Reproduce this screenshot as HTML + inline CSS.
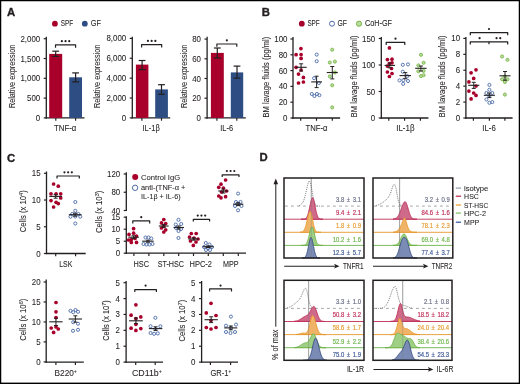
<!DOCTYPE html>
<html><head><meta charset="utf-8"><style>
html,body{margin:0;padding:0;background:#fff;}
body{width:520px;height:384px;overflow:hidden;position:relative;font-family:"Liberation Sans", sans-serif;}
text{font-family:"Liberation Sans", sans-serif;}
</style></head><body>
<svg width="520" height="384" viewBox="0 0 520 384" style="position:absolute;left:0;top:0;filter:blur(0.3px)" font-family='"Liberation Sans", sans-serif'>
<rect x="0" y="0" width="520" height="384" fill="#fff"/>
<text x="7" y="16.45" font-size="11.3" text-anchor="start" fill="#231f20" stroke="#231f20" stroke-width="0.07" font-weight="bold" style="stroke-width:0.35">A</text>
<text x="261.7" y="16.35" font-size="11.3" text-anchor="start" fill="#231f20" stroke="#231f20" stroke-width="0.07" font-weight="bold" style="stroke-width:0.35">B</text>
<text x="7" y="161.75" font-size="11.3" text-anchor="start" fill="#231f20" stroke="#231f20" stroke-width="0.07" font-weight="bold" style="stroke-width:0.35">C</text>
<text x="259.5" y="161.35" font-size="11.3" text-anchor="start" fill="#231f20" stroke="#231f20" stroke-width="0.07" font-weight="bold" style="stroke-width:0.35">D</text>
<circle cx="54.9" cy="23.7" r="2.9" fill="#a8002a"/>
<text x="60.8" y="26.4" font-size="8.4" text-anchor="start" fill="#231f20" stroke="#231f20" stroke-width="0.07" font-weight="normal" textLength="12.4" lengthAdjust="spacingAndGlyphs" >SPF</text>
<circle cx="84.8" cy="23.7" r="2.9" fill="#2e4d82"/>
<text x="90.7" y="26.4" font-size="8.4" text-anchor="start" fill="#231f20" stroke="#231f20" stroke-width="0.07" font-weight="normal" textLength="10.2" lengthAdjust="spacingAndGlyphs" >GF</text>
<line x1="46.3" y1="36.8" x2="46.3" y2="118.55" stroke="#231f20" stroke-width="1.3" />
<line x1="45.65" y1="117.9" x2="84.5" y2="117.9" stroke="#231f20" stroke-width="1.3" />
<line x1="43.7" y1="117.9" x2="46.3" y2="117.9" stroke="#231f20" stroke-width="1.1700000000000002" />
<text transform="translate(40.2,120.92) scale(0.93,1)" font-size="8.5" text-anchor="end" fill="#231f20" stroke="#231f20" stroke-width="0.07" font-weight="normal" >0</text>
<line x1="43.7" y1="98.1" x2="46.3" y2="98.1" stroke="#231f20" stroke-width="1.1700000000000002" />
<text transform="translate(40.2,101.12) scale(0.93,1)" font-size="8.5" text-anchor="end" fill="#231f20" stroke="#231f20" stroke-width="0.07" font-weight="normal" >500</text>
<line x1="43.7" y1="78.3" x2="46.3" y2="78.3" stroke="#231f20" stroke-width="1.1700000000000002" />
<text transform="translate(40.2,81.32) scale(0.93,1)" font-size="8.5" text-anchor="end" fill="#231f20" stroke="#231f20" stroke-width="0.07" font-weight="normal" >1,000</text>
<line x1="43.7" y1="58.5" x2="46.3" y2="58.5" stroke="#231f20" stroke-width="1.1700000000000002" />
<text transform="translate(40.2,61.52) scale(0.93,1)" font-size="8.5" text-anchor="end" fill="#231f20" stroke="#231f20" stroke-width="0.07" font-weight="normal" >1,500</text>
<line x1="43.7" y1="38.7" x2="46.3" y2="38.7" stroke="#231f20" stroke-width="1.1700000000000002" />
<text transform="translate(40.2,41.72) scale(0.93,1)" font-size="8.5" text-anchor="end" fill="#231f20" stroke="#231f20" stroke-width="0.07" font-weight="normal" >2,000</text>
<line x1="55.8" y1="117.9" x2="55.8" y2="120.7" stroke="#231f20" stroke-width="1.1700000000000002" />
<line x1="75.6" y1="117.9" x2="75.6" y2="120.7" stroke="#231f20" stroke-width="1.1700000000000002" />
<rect x="49.2" y="53.9" width="13" height="64" fill="#a8002a"/>
<rect x="69.2" y="77.3" width="12.8" height="40.6" fill="#2e4d82"/>
<line x1="55.7" y1="51.2" x2="55.7" y2="56.4" stroke="#231f20" stroke-width="1.2" />
<line x1="52.3" y1="51.2" x2="59.1" y2="51.2" stroke="#231f20" stroke-width="1.2" />
<line x1="52.3" y1="56.4" x2="59.1" y2="56.4" stroke="#231f20" stroke-width="1.2" />
<line x1="75.6" y1="72.9" x2="75.6" y2="81.9" stroke="#231f20" stroke-width="1.2" />
<line x1="72.2" y1="72.9" x2="79" y2="72.9" stroke="#231f20" stroke-width="1.2" />
<line x1="72.2" y1="81.9" x2="79" y2="81.9" stroke="#231f20" stroke-width="1.2" />
<path d="M55.5,47.7 V44.9 H75.6 V47.7" fill="none" stroke="#231f20" stroke-width="1.2" stroke-linejoin="round"/>
<circle cx="61.85" cy="41.2" r="1.1" fill="#231f20"/>
<circle cx="65.55" cy="41.2" r="1.1" fill="#231f20"/>
<circle cx="69.25" cy="41.2" r="1.1" fill="#231f20"/>
<text x="54" y="130.9" font-size="8.2" text-anchor="start" fill="#231f20" stroke="#231f20" stroke-width="0.07" font-weight="normal" textLength="22.3" lengthAdjust="spacingAndGlyphs" >TNF-α</text>
<text transform="translate(15.38,76.45) rotate(-90)" font-size="8.2" text-anchor="middle" fill="#231f20" stroke="#231f20" stroke-width="0.07" textLength="63.3" lengthAdjust="spacingAndGlyphs">Relative expression</text>
<line x1="132.3" y1="36.8" x2="132.3" y2="118.55" stroke="#231f20" stroke-width="1.3" />
<line x1="131.65" y1="117.9" x2="170.2" y2="117.9" stroke="#231f20" stroke-width="1.3" />
<line x1="129.7" y1="117.9" x2="132.3" y2="117.9" stroke="#231f20" stroke-width="1.1700000000000002" />
<text transform="translate(126.2,120.92) scale(0.93,1)" font-size="8.5" text-anchor="end" fill="#231f20" stroke="#231f20" stroke-width="0.07" font-weight="normal" >0</text>
<line x1="129.7" y1="98.03" x2="132.3" y2="98.03" stroke="#231f20" stroke-width="1.1700000000000002" />
<text transform="translate(126.2,101.04) scale(0.93,1)" font-size="8.5" text-anchor="end" fill="#231f20" stroke="#231f20" stroke-width="0.07" font-weight="normal" >2,000</text>
<line x1="129.7" y1="78.15" x2="132.3" y2="78.15" stroke="#231f20" stroke-width="1.1700000000000002" />
<text transform="translate(126.2,81.17) scale(0.93,1)" font-size="8.5" text-anchor="end" fill="#231f20" stroke="#231f20" stroke-width="0.07" font-weight="normal" >4,000</text>
<line x1="129.7" y1="58.28" x2="132.3" y2="58.28" stroke="#231f20" stroke-width="1.1700000000000002" />
<text transform="translate(126.2,61.29) scale(0.93,1)" font-size="8.5" text-anchor="end" fill="#231f20" stroke="#231f20" stroke-width="0.07" font-weight="normal" >6,000</text>
<line x1="129.7" y1="38.4" x2="132.3" y2="38.4" stroke="#231f20" stroke-width="1.1700000000000002" />
<text transform="translate(126.2,41.42) scale(0.93,1)" font-size="8.5" text-anchor="end" fill="#231f20" stroke="#231f20" stroke-width="0.07" font-weight="normal" >8,000</text>
<line x1="141.9" y1="117.9" x2="141.9" y2="120.7" stroke="#231f20" stroke-width="1.1700000000000002" />
<line x1="161.5" y1="117.9" x2="161.5" y2="120.7" stroke="#231f20" stroke-width="1.1700000000000002" />
<rect x="135.9" y="64.6" width="12.5" height="53.3" fill="#a8002a"/>
<rect x="155.2" y="89.4" width="12.7" height="28.5" fill="#2e4d82"/>
<line x1="142.1" y1="60.5" x2="142.1" y2="69.6" stroke="#231f20" stroke-width="1.2" />
<line x1="138.7" y1="60.5" x2="145.5" y2="60.5" stroke="#231f20" stroke-width="1.2" />
<line x1="138.7" y1="69.6" x2="145.5" y2="69.6" stroke="#231f20" stroke-width="1.2" />
<line x1="161.5" y1="84.7" x2="161.5" y2="94.3" stroke="#231f20" stroke-width="1.2" />
<line x1="158.1" y1="84.7" x2="164.9" y2="84.7" stroke="#231f20" stroke-width="1.2" />
<line x1="158.1" y1="94.3" x2="164.9" y2="94.3" stroke="#231f20" stroke-width="1.2" />
<path d="M141.6,47.4 V44.6 H161.7 V47.4" fill="none" stroke="#231f20" stroke-width="1.2" stroke-linejoin="round"/>
<circle cx="147.95" cy="40.9" r="1.1" fill="#231f20"/>
<circle cx="151.65" cy="40.9" r="1.1" fill="#231f20"/>
<circle cx="155.35" cy="40.9" r="1.1" fill="#231f20"/>
<text x="142.5" y="130.9" font-size="8.2" text-anchor="start" fill="#231f20" stroke="#231f20" stroke-width="0.07" font-weight="normal" textLength="17.3" lengthAdjust="spacingAndGlyphs" >IL-1β</text>
<text transform="translate(100.18,76.45) rotate(-90)" font-size="8.2" text-anchor="middle" fill="#231f20" stroke="#231f20" stroke-width="0.07" textLength="63.3" lengthAdjust="spacingAndGlyphs">Relative expression</text>
<line x1="207.1" y1="36.8" x2="207.1" y2="118.55" stroke="#231f20" stroke-width="1.3" />
<line x1="206.45" y1="117.9" x2="245.8" y2="117.9" stroke="#231f20" stroke-width="1.3" />
<line x1="204.5" y1="117.9" x2="207.1" y2="117.9" stroke="#231f20" stroke-width="1.1700000000000002" />
<text transform="translate(201,120.92) scale(0.93,1)" font-size="8.5" text-anchor="end" fill="#231f20" stroke="#231f20" stroke-width="0.07" font-weight="normal" >0</text>
<line x1="204.5" y1="98.2" x2="207.1" y2="98.2" stroke="#231f20" stroke-width="1.1700000000000002" />
<text transform="translate(201,101.22) scale(0.93,1)" font-size="8.5" text-anchor="end" fill="#231f20" stroke="#231f20" stroke-width="0.07" font-weight="normal" >20</text>
<line x1="204.5" y1="78.5" x2="207.1" y2="78.5" stroke="#231f20" stroke-width="1.1700000000000002" />
<text transform="translate(201,81.52) scale(0.93,1)" font-size="8.5" text-anchor="end" fill="#231f20" stroke="#231f20" stroke-width="0.07" font-weight="normal" >40</text>
<line x1="204.5" y1="58.8" x2="207.1" y2="58.8" stroke="#231f20" stroke-width="1.1700000000000002" />
<text transform="translate(201,61.82) scale(0.93,1)" font-size="8.5" text-anchor="end" fill="#231f20" stroke="#231f20" stroke-width="0.07" font-weight="normal" >60</text>
<line x1="204.5" y1="39.1" x2="207.1" y2="39.1" stroke="#231f20" stroke-width="1.1700000000000002" />
<text transform="translate(201,42.12) scale(0.93,1)" font-size="8.5" text-anchor="end" fill="#231f20" stroke="#231f20" stroke-width="0.07" font-weight="normal" >80</text>
<line x1="216.9" y1="117.9" x2="216.9" y2="120.7" stroke="#231f20" stroke-width="1.1700000000000002" />
<line x1="236.8" y1="117.9" x2="236.8" y2="120.7" stroke="#231f20" stroke-width="1.1700000000000002" />
<rect x="210.9" y="52.9" width="12.9" height="65" fill="#a8002a"/>
<rect x="230.8" y="72.4" width="12.4" height="45.5" fill="#2e4d82"/>
<line x1="217.3" y1="48" x2="217.3" y2="58" stroke="#231f20" stroke-width="1.2" />
<line x1="213.9" y1="48" x2="220.7" y2="48" stroke="#231f20" stroke-width="1.2" />
<line x1="213.9" y1="58" x2="220.7" y2="58" stroke="#231f20" stroke-width="1.2" />
<line x1="237" y1="66.1" x2="237" y2="78.1" stroke="#231f20" stroke-width="1.2" />
<line x1="233.6" y1="66.1" x2="240.4" y2="66.1" stroke="#231f20" stroke-width="1.2" />
<line x1="233.6" y1="78.1" x2="240.4" y2="78.1" stroke="#231f20" stroke-width="1.2" />
<path d="M216.9,46.8 V44 H236.8 V46.8" fill="none" stroke="#231f20" stroke-width="1.2" stroke-linejoin="round"/>
<circle cx="226.85" cy="40.3" r="1.1" fill="#231f20"/>
<text x="220.2" y="130.9" font-size="8.2" text-anchor="start" fill="#231f20" stroke="#231f20" stroke-width="0.07" font-weight="normal" textLength="12.9" lengthAdjust="spacingAndGlyphs" >IL-6</text>
<text transform="translate(187.38,76.45) rotate(-90)" font-size="8.2" text-anchor="middle" fill="#231f20" stroke="#231f20" stroke-width="0.07" textLength="63.3" lengthAdjust="spacingAndGlyphs">Relative expression</text>
<circle cx="301.8" cy="23.7" r="2.9" fill="#a8002a"/>
<text x="307.4" y="26.4" font-size="8.4" text-anchor="start" fill="#231f20" stroke="#231f20" stroke-width="0.07" font-weight="normal" textLength="12.3" lengthAdjust="spacingAndGlyphs" >SPF</text>
<circle cx="332" cy="23.7" r="2.5" fill="none" stroke="#4a6aa8" stroke-width="1.0"/>
<text x="337.5" y="26.4" font-size="8.4" text-anchor="start" fill="#231f20" stroke="#231f20" stroke-width="0.07" font-weight="normal" textLength="9.5" lengthAdjust="spacingAndGlyphs" >GF</text>
<circle cx="359" cy="23.7" r="2.6" fill="#b9dc9f" stroke="#7ab648" stroke-width="1.0"/>
<text x="365" y="26.4" font-size="8.4" text-anchor="start" fill="#231f20" stroke="#231f20" stroke-width="0.07" font-weight="normal" textLength="27" lengthAdjust="spacingAndGlyphs" >CoH-GF</text>
<line x1="293" y1="37" x2="293" y2="118.65" stroke="#231f20" stroke-width="1.3" />
<line x1="292.35" y1="118" x2="340.1" y2="118" stroke="#231f20" stroke-width="1.3" />
<line x1="290.4" y1="118" x2="293" y2="118" stroke="#231f20" stroke-width="1.1700000000000002" />
<text transform="translate(287.5,121.02) scale(0.93,1)" font-size="8.5" text-anchor="end" fill="#231f20" stroke="#231f20" stroke-width="0.07" font-weight="normal" >0</text>
<line x1="290.4" y1="102.2" x2="293" y2="102.2" stroke="#231f20" stroke-width="1.1700000000000002" />
<text transform="translate(287.5,105.22) scale(0.93,1)" font-size="8.5" text-anchor="end" fill="#231f20" stroke="#231f20" stroke-width="0.07" font-weight="normal" >20</text>
<line x1="290.4" y1="86.4" x2="293" y2="86.4" stroke="#231f20" stroke-width="1.1700000000000002" />
<text transform="translate(287.5,89.42) scale(0.93,1)" font-size="8.5" text-anchor="end" fill="#231f20" stroke="#231f20" stroke-width="0.07" font-weight="normal" >40</text>
<line x1="290.4" y1="70.6" x2="293" y2="70.6" stroke="#231f20" stroke-width="1.1700000000000002" />
<text transform="translate(287.5,73.62) scale(0.93,1)" font-size="8.5" text-anchor="end" fill="#231f20" stroke="#231f20" stroke-width="0.07" font-weight="normal" >60</text>
<line x1="290.4" y1="54.8" x2="293" y2="54.8" stroke="#231f20" stroke-width="1.1700000000000002" />
<text transform="translate(287.5,57.82) scale(0.93,1)" font-size="8.5" text-anchor="end" fill="#231f20" stroke="#231f20" stroke-width="0.07" font-weight="normal" >80</text>
<line x1="290.4" y1="39" x2="293" y2="39" stroke="#231f20" stroke-width="1.1700000000000002" />
<text transform="translate(287.5,42.02) scale(0.93,1)" font-size="8.5" text-anchor="end" fill="#231f20" stroke="#231f20" stroke-width="0.07" font-weight="normal" >100</text>
<line x1="300.7" y1="118" x2="300.7" y2="120.8" stroke="#231f20" stroke-width="1.1700000000000002" />
<line x1="316.5" y1="118" x2="316.5" y2="120.8" stroke="#231f20" stroke-width="1.1700000000000002" />
<line x1="332.3" y1="118" x2="332.3" y2="120.8" stroke="#231f20" stroke-width="1.1700000000000002" />
<text transform="translate(268.68,77.05) rotate(-90)" font-size="8.2" text-anchor="middle" fill="#231f20" stroke="#231f20" stroke-width="0.07" textLength="80.7" lengthAdjust="spacingAndGlyphs">BM lavage fluids (pg/ml)</text>
<circle cx="300.9" cy="48.6" r="1.85" fill="#a8002a"/>
<circle cx="296.1" cy="54.7" r="1.85" fill="#a8002a"/>
<circle cx="301.1" cy="54.6" r="1.85" fill="#a8002a"/>
<circle cx="301.1" cy="58.4" r="1.85" fill="#a8002a"/>
<circle cx="296.1" cy="67.3" r="1.85" fill="#a8002a"/>
<circle cx="301.1" cy="70" r="1.85" fill="#a8002a"/>
<circle cx="298.5" cy="74.1" r="1.85" fill="#a8002a"/>
<circle cx="303.4" cy="77.4" r="1.85" fill="#a8002a"/>
<circle cx="298.5" cy="83" r="1.85" fill="#a8002a"/>
<circle cx="303.4" cy="82" r="1.85" fill="#a8002a"/>
<line x1="295.5" y1="67.3" x2="306.7" y2="67.3" stroke="#231f20" stroke-width="1.1" />
<line x1="301.1" y1="63.8" x2="301.1" y2="71" stroke="#231f20" stroke-width="0.9900000000000001" />
<line x1="299.1" y1="63.8" x2="303.1" y2="63.8" stroke="#231f20" stroke-width="0.9900000000000001" />
<line x1="299.1" y1="71" x2="303.1" y2="71" stroke="#231f20" stroke-width="0.9900000000000001" />
<circle cx="316.7" cy="54.6" r="1.55" fill="none" stroke="#4a6aa8" stroke-width="0.9"/>
<circle cx="316.7" cy="61.2" r="1.55" fill="none" stroke="#4a6aa8" stroke-width="0.9"/>
<circle cx="314.1" cy="78.2" r="1.55" fill="none" stroke="#4a6aa8" stroke-width="0.9"/>
<circle cx="318.9" cy="83" r="1.55" fill="none" stroke="#4a6aa8" stroke-width="0.9"/>
<circle cx="311.8" cy="94" r="1.55" fill="none" stroke="#4a6aa8" stroke-width="0.9"/>
<circle cx="314.4" cy="96" r="1.55" fill="none" stroke="#4a6aa8" stroke-width="0.9"/>
<circle cx="316.9" cy="94" r="1.55" fill="none" stroke="#4a6aa8" stroke-width="0.9"/>
<circle cx="319.4" cy="95.2" r="1.55" fill="none" stroke="#4a6aa8" stroke-width="0.9"/>
<line x1="311.2" y1="81.9" x2="322" y2="81.9" stroke="#231f20" stroke-width="1.1" />
<line x1="316.6" y1="76.2" x2="316.6" y2="87.6" stroke="#231f20" stroke-width="0.9900000000000001" />
<line x1="314.6" y1="76.2" x2="318.6" y2="76.2" stroke="#231f20" stroke-width="0.9900000000000001" />
<line x1="314.6" y1="87.6" x2="318.6" y2="87.6" stroke="#231f20" stroke-width="0.9900000000000001" />
<circle cx="332.2" cy="49.7" r="1.55" fill="#b9dc9f" stroke="#7ab648" stroke-width="0.9"/>
<circle cx="329.8" cy="62.5" r="1.55" fill="#b9dc9f" stroke="#7ab648" stroke-width="0.9"/>
<circle cx="334.9" cy="61.6" r="1.55" fill="#b9dc9f" stroke="#7ab648" stroke-width="0.9"/>
<circle cx="334.9" cy="72.5" r="1.55" fill="#b9dc9f" stroke="#7ab648" stroke-width="0.9"/>
<circle cx="329.8" cy="76.4" r="1.55" fill="#b9dc9f" stroke="#7ab648" stroke-width="0.9"/>
<circle cx="332.2" cy="85.3" r="1.55" fill="#b9dc9f" stroke="#7ab648" stroke-width="0.9"/>
<circle cx="332.2" cy="107.4" r="1.55" fill="#b9dc9f" stroke="#7ab648" stroke-width="0.9"/>
<line x1="326.8" y1="72.5" x2="337.8" y2="72.5" stroke="#231f20" stroke-width="1.1" />
<line x1="332.3" y1="66.5" x2="332.3" y2="78.9" stroke="#231f20" stroke-width="0.9900000000000001" />
<line x1="330.3" y1="66.5" x2="334.3" y2="66.5" stroke="#231f20" stroke-width="0.9900000000000001" />
<line x1="330.3" y1="78.9" x2="334.3" y2="78.9" stroke="#231f20" stroke-width="0.9900000000000001" />
<text x="305.5" y="130.9" font-size="8.2" text-anchor="start" fill="#231f20" stroke="#231f20" stroke-width="0.07" font-weight="normal" textLength="22" lengthAdjust="spacingAndGlyphs" >TNF-α</text>
<line x1="381.3" y1="37" x2="381.3" y2="118.65" stroke="#231f20" stroke-width="1.3" />
<line x1="380.65" y1="118" x2="428.4" y2="118" stroke="#231f20" stroke-width="1.3" />
<line x1="378.7" y1="118" x2="381.3" y2="118" stroke="#231f20" stroke-width="1.1700000000000002" />
<text transform="translate(375.2,121.02) scale(0.93,1)" font-size="8.5" text-anchor="end" fill="#231f20" stroke="#231f20" stroke-width="0.07" font-weight="normal" >0</text>
<line x1="378.7" y1="91.5" x2="381.3" y2="91.5" stroke="#231f20" stroke-width="1.1700000000000002" />
<text transform="translate(375.2,94.52) scale(0.93,1)" font-size="8.5" text-anchor="end" fill="#231f20" stroke="#231f20" stroke-width="0.07" font-weight="normal" >50</text>
<line x1="378.7" y1="65" x2="381.3" y2="65" stroke="#231f20" stroke-width="1.1700000000000002" />
<text transform="translate(375.2,68.02) scale(0.93,1)" font-size="8.5" text-anchor="end" fill="#231f20" stroke="#231f20" stroke-width="0.07" font-weight="normal" >100</text>
<line x1="378.7" y1="38.5" x2="381.3" y2="38.5" stroke="#231f20" stroke-width="1.1700000000000002" />
<text transform="translate(375.2,41.52) scale(0.93,1)" font-size="8.5" text-anchor="end" fill="#231f20" stroke="#231f20" stroke-width="0.07" font-weight="normal" >150</text>
<line x1="388.8" y1="118" x2="388.8" y2="120.8" stroke="#231f20" stroke-width="1.1700000000000002" />
<line x1="404.6" y1="118" x2="404.6" y2="120.8" stroke="#231f20" stroke-width="1.1700000000000002" />
<line x1="420.4" y1="118" x2="420.4" y2="120.8" stroke="#231f20" stroke-width="1.1700000000000002" />
<text transform="translate(356.78,76.4) rotate(-90)" font-size="8.2" text-anchor="middle" fill="#231f20" stroke="#231f20" stroke-width="0.07" textLength="82" lengthAdjust="spacingAndGlyphs">BM lavage fluids (pg/ml)</text>
<path d="M386.2,45 V42.4 H404.8 V45" fill="none" stroke="#231f20" stroke-width="1.2" stroke-linejoin="round"/>
<circle cx="395.5" cy="38.7" r="1.1" fill="#231f20"/>
<circle cx="389.4" cy="47.9" r="1.85" fill="#a8002a"/>
<circle cx="387.4" cy="59.6" r="1.85" fill="#a8002a"/>
<circle cx="392" cy="59.2" r="1.85" fill="#a8002a"/>
<circle cx="392" cy="62.8" r="1.85" fill="#a8002a"/>
<circle cx="387.4" cy="66.1" r="1.85" fill="#a8002a"/>
<circle cx="391.5" cy="68.5" r="1.85" fill="#a8002a"/>
<circle cx="387.4" cy="72" r="1.85" fill="#a8002a"/>
<circle cx="392" cy="73.5" r="1.85" fill="#a8002a"/>
<circle cx="389.4" cy="76.5" r="1.85" fill="#a8002a"/>
<circle cx="389.4" cy="63.5" r="1.85" fill="#a8002a"/>
<line x1="384.6" y1="65.4" x2="395" y2="65.4" stroke="#231f20" stroke-width="1.1" />
<line x1="389.8" y1="63" x2="389.8" y2="67.8" stroke="#231f20" stroke-width="0.9900000000000001" />
<line x1="387.8" y1="63" x2="391.8" y2="63" stroke="#231f20" stroke-width="0.9900000000000001" />
<line x1="387.8" y1="67.8" x2="391.8" y2="67.8" stroke="#231f20" stroke-width="0.9900000000000001" />
<circle cx="402.8" cy="64.8" r="1.55" fill="none" stroke="#4a6aa8" stroke-width="0.9"/>
<circle cx="408" cy="64.4" r="1.55" fill="none" stroke="#4a6aa8" stroke-width="0.9"/>
<circle cx="402.8" cy="71.7" r="1.55" fill="none" stroke="#4a6aa8" stroke-width="0.9"/>
<circle cx="407.3" cy="76.1" r="1.55" fill="none" stroke="#4a6aa8" stroke-width="0.9"/>
<circle cx="399.5" cy="80.4" r="1.55" fill="none" stroke="#4a6aa8" stroke-width="0.9"/>
<circle cx="403.4" cy="80.2" r="1.55" fill="none" stroke="#4a6aa8" stroke-width="0.9"/>
<circle cx="408" cy="81" r="1.55" fill="none" stroke="#4a6aa8" stroke-width="0.9"/>
<circle cx="403.2" cy="83.9" r="1.55" fill="none" stroke="#4a6aa8" stroke-width="0.9"/>
<line x1="399.5" y1="75.6" x2="411" y2="75.6" stroke="#231f20" stroke-width="1.1" />
<line x1="405.25" y1="72.6" x2="405.25" y2="78.7" stroke="#231f20" stroke-width="0.9900000000000001" />
<line x1="403.25" y1="72.6" x2="407.25" y2="72.6" stroke="#231f20" stroke-width="0.9900000000000001" />
<line x1="403.25" y1="78.7" x2="407.25" y2="78.7" stroke="#231f20" stroke-width="0.9900000000000001" />
<circle cx="421" cy="54.8" r="1.55" fill="#b9dc9f" stroke="#7ab648" stroke-width="0.9"/>
<circle cx="418.4" cy="65.4" r="1.55" fill="#b9dc9f" stroke="#7ab648" stroke-width="0.9"/>
<circle cx="423.6" cy="62.8" r="1.55" fill="#b9dc9f" stroke="#7ab648" stroke-width="0.9"/>
<circle cx="418.4" cy="71.3" r="1.55" fill="#b9dc9f" stroke="#7ab648" stroke-width="0.9"/>
<circle cx="423.6" cy="70.9" r="1.55" fill="#b9dc9f" stroke="#7ab648" stroke-width="0.9"/>
<circle cx="421" cy="76.1" r="1.55" fill="#b9dc9f" stroke="#7ab648" stroke-width="0.9"/>
<circle cx="423.6" cy="75.2" r="1.55" fill="#b9dc9f" stroke="#7ab648" stroke-width="0.9"/>
<line x1="415.2" y1="68.3" x2="426.6" y2="68.3" stroke="#231f20" stroke-width="1.1" />
<line x1="420.9" y1="66" x2="420.9" y2="71" stroke="#231f20" stroke-width="0.9900000000000001" />
<line x1="418.9" y1="66" x2="422.9" y2="66" stroke="#231f20" stroke-width="0.9900000000000001" />
<line x1="418.9" y1="71" x2="422.9" y2="71" stroke="#231f20" stroke-width="0.9900000000000001" />
<text x="396.2" y="130.9" font-size="8.2" text-anchor="start" fill="#231f20" stroke="#231f20" stroke-width="0.07" font-weight="normal" textLength="18.3" lengthAdjust="spacingAndGlyphs" >IL-1β</text>
<line x1="465.9" y1="37" x2="465.9" y2="118.65" stroke="#231f20" stroke-width="1.3" />
<line x1="465.25" y1="118" x2="512.6" y2="118" stroke="#231f20" stroke-width="1.3" />
<line x1="463.3" y1="118" x2="465.9" y2="118" stroke="#231f20" stroke-width="1.1700000000000002" />
<text transform="translate(460.1,121.02) scale(0.93,1)" font-size="8.5" text-anchor="end" fill="#231f20" stroke="#231f20" stroke-width="0.07" font-weight="normal" >0</text>
<line x1="463.3" y1="102.08" x2="465.9" y2="102.08" stroke="#231f20" stroke-width="1.1700000000000002" />
<text transform="translate(460.1,105.1) scale(0.93,1)" font-size="8.5" text-anchor="end" fill="#231f20" stroke="#231f20" stroke-width="0.07" font-weight="normal" >2</text>
<line x1="463.3" y1="86.16" x2="465.9" y2="86.16" stroke="#231f20" stroke-width="1.1700000000000002" />
<text transform="translate(460.1,89.18) scale(0.93,1)" font-size="8.5" text-anchor="end" fill="#231f20" stroke="#231f20" stroke-width="0.07" font-weight="normal" >4</text>
<line x1="463.3" y1="70.24" x2="465.9" y2="70.24" stroke="#231f20" stroke-width="1.1700000000000002" />
<text transform="translate(460.1,73.26) scale(0.93,1)" font-size="8.5" text-anchor="end" fill="#231f20" stroke="#231f20" stroke-width="0.07" font-weight="normal" >6</text>
<line x1="463.3" y1="54.32" x2="465.9" y2="54.32" stroke="#231f20" stroke-width="1.1700000000000002" />
<text transform="translate(460.1,57.34) scale(0.93,1)" font-size="8.5" text-anchor="end" fill="#231f20" stroke="#231f20" stroke-width="0.07" font-weight="normal" >8</text>
<line x1="463.3" y1="38.4" x2="465.9" y2="38.4" stroke="#231f20" stroke-width="1.1700000000000002" />
<text transform="translate(460.1,41.42) scale(0.93,1)" font-size="8.5" text-anchor="end" fill="#231f20" stroke="#231f20" stroke-width="0.07" font-weight="normal" >10</text>
<line x1="473.4" y1="118" x2="473.4" y2="120.8" stroke="#231f20" stroke-width="1.1700000000000002" />
<line x1="489.4" y1="118" x2="489.4" y2="120.8" stroke="#231f20" stroke-width="1.1700000000000002" />
<line x1="504.9" y1="118" x2="504.9" y2="120.8" stroke="#231f20" stroke-width="1.1700000000000002" />
<text transform="translate(445.48,76.4) rotate(-90)" font-size="8.2" text-anchor="middle" fill="#231f20" stroke="#231f20" stroke-width="0.07" textLength="82" lengthAdjust="spacingAndGlyphs">BM lavage fluids (pg/ml)</text>
<path d="M470.3,35.2 V32.6 H507.7 V35.2" fill="none" stroke="#231f20" stroke-width="1.2" stroke-linejoin="round"/>
<circle cx="489" cy="29" r="1.1" fill="#231f20"/>
<path d="M470.3,44.4 V41.8 H507.7 V44.4" fill="none" stroke="#231f20" stroke-width="1.2" stroke-linejoin="round"/>
<line x1="489" y1="41.8" x2="489" y2="44.2" stroke="#231f20" stroke-width="1.2" />
<circle cx="479.6" cy="38.2" r="1.1" fill="#231f20"/>
<circle cx="496.55" cy="38.2" r="1.1" fill="#231f20"/>
<circle cx="500.25" cy="38.2" r="1.1" fill="#231f20"/>
<circle cx="476" cy="69.8" r="1.85" fill="#a8002a"/>
<circle cx="471.1" cy="72.8" r="1.85" fill="#a8002a"/>
<circle cx="473.7" cy="78.4" r="1.85" fill="#a8002a"/>
<circle cx="468.9" cy="81.9" r="1.85" fill="#a8002a"/>
<circle cx="476" cy="86" r="1.85" fill="#a8002a"/>
<circle cx="468.9" cy="91.1" r="1.85" fill="#a8002a"/>
<circle cx="473.7" cy="93" r="1.85" fill="#a8002a"/>
<circle cx="476" cy="95.4" r="1.85" fill="#a8002a"/>
<circle cx="471.1" cy="98.9" r="1.85" fill="#a8002a"/>
<line x1="468.2" y1="85.3" x2="479.3" y2="85.3" stroke="#231f20" stroke-width="1.1" />
<line x1="473.75" y1="82.3" x2="473.75" y2="88.4" stroke="#231f20" stroke-width="0.9900000000000001" />
<line x1="471.75" y1="82.3" x2="475.75" y2="82.3" stroke="#231f20" stroke-width="0.9900000000000001" />
<line x1="471.75" y1="88.4" x2="475.75" y2="88.4" stroke="#231f20" stroke-width="0.9900000000000001" />
<circle cx="489.4" cy="84.9" r="1.55" fill="none" stroke="#4a6aa8" stroke-width="0.9"/>
<circle cx="489.4" cy="89.8" r="1.55" fill="none" stroke="#4a6aa8" stroke-width="0.9"/>
<circle cx="486.4" cy="93" r="1.55" fill="none" stroke="#4a6aa8" stroke-width="0.9"/>
<circle cx="492.3" cy="93" r="1.55" fill="none" stroke="#4a6aa8" stroke-width="0.9"/>
<circle cx="489.4" cy="96" r="1.55" fill="none" stroke="#4a6aa8" stroke-width="0.9"/>
<circle cx="486.4" cy="99.5" r="1.55" fill="none" stroke="#4a6aa8" stroke-width="0.9"/>
<circle cx="489.4" cy="102.8" r="1.55" fill="none" stroke="#4a6aa8" stroke-width="0.9"/>
<circle cx="492.3" cy="102.1" r="1.55" fill="none" stroke="#4a6aa8" stroke-width="0.9"/>
<line x1="483.8" y1="95.3" x2="494.9" y2="95.3" stroke="#231f20" stroke-width="1.1" />
<line x1="489.35" y1="93" x2="489.35" y2="97.6" stroke="#231f20" stroke-width="0.9900000000000001" />
<line x1="487.35" y1="93" x2="491.35" y2="93" stroke="#231f20" stroke-width="0.9900000000000001" />
<line x1="487.35" y1="97.6" x2="491.35" y2="97.6" stroke="#231f20" stroke-width="0.9900000000000001" />
<circle cx="502.1" cy="56.5" r="1.55" fill="#b9dc9f" stroke="#7ab648" stroke-width="0.9"/>
<circle cx="507.5" cy="59.8" r="1.55" fill="#b9dc9f" stroke="#7ab648" stroke-width="0.9"/>
<circle cx="504.9" cy="76.5" r="1.55" fill="#b9dc9f" stroke="#7ab648" stroke-width="0.9"/>
<circle cx="502.1" cy="79.3" r="1.55" fill="#b9dc9f" stroke="#7ab648" stroke-width="0.9"/>
<circle cx="507.5" cy="79.3" r="1.55" fill="#b9dc9f" stroke="#7ab648" stroke-width="0.9"/>
<circle cx="504.9" cy="81.9" r="1.55" fill="#b9dc9f" stroke="#7ab648" stroke-width="0.9"/>
<circle cx="504.9" cy="94.6" r="1.55" fill="#b9dc9f" stroke="#7ab648" stroke-width="0.9"/>
<line x1="499.5" y1="75.8" x2="510.5" y2="75.8" stroke="#231f20" stroke-width="1.1" />
<line x1="505" y1="71.5" x2="505" y2="80.2" stroke="#231f20" stroke-width="0.9900000000000001" />
<line x1="503" y1="71.5" x2="507" y2="71.5" stroke="#231f20" stroke-width="0.9900000000000001" />
<line x1="503" y1="80.2" x2="507" y2="80.2" stroke="#231f20" stroke-width="0.9900000000000001" />
<text x="482.3" y="130.9" font-size="8.2" text-anchor="start" fill="#231f20" stroke="#231f20" stroke-width="0.07" font-weight="normal" textLength="13.5" lengthAdjust="spacingAndGlyphs" >IL-6</text>
<line x1="46.5" y1="171.5" x2="46.5" y2="254.15" stroke="#231f20" stroke-width="1.3" />
<line x1="45.85" y1="253.5" x2="85.7" y2="253.5" stroke="#231f20" stroke-width="1.3" />
<line x1="43.9" y1="253.5" x2="46.5" y2="253.5" stroke="#231f20" stroke-width="1.1700000000000002" />
<text transform="translate(40.6,256.52) scale(0.93,1)" font-size="8.5" text-anchor="end" fill="#231f20" stroke="#231f20" stroke-width="0.07" font-weight="normal" >0</text>
<line x1="43.9" y1="226.77" x2="46.5" y2="226.77" stroke="#231f20" stroke-width="1.1700000000000002" />
<text transform="translate(40.6,229.78) scale(0.93,1)" font-size="8.5" text-anchor="end" fill="#231f20" stroke="#231f20" stroke-width="0.07" font-weight="normal" >5</text>
<line x1="43.9" y1="200.03" x2="46.5" y2="200.03" stroke="#231f20" stroke-width="1.1700000000000002" />
<text transform="translate(40.6,203.05) scale(0.93,1)" font-size="8.5" text-anchor="end" fill="#231f20" stroke="#231f20" stroke-width="0.07" font-weight="normal" >10</text>
<line x1="43.9" y1="173.3" x2="46.5" y2="173.3" stroke="#231f20" stroke-width="1.1700000000000002" />
<text transform="translate(40.6,176.32) scale(0.93,1)" font-size="8.5" text-anchor="end" fill="#231f20" stroke="#231f20" stroke-width="0.07" font-weight="normal" >15</text>
<line x1="55.7" y1="253.5" x2="55.7" y2="256.3" stroke="#231f20" stroke-width="1.1700000000000002" />
<line x1="75.6" y1="253.5" x2="75.6" y2="256.3" stroke="#231f20" stroke-width="1.1700000000000002" />
<text transform="translate(26.28,211.25) rotate(-90)" font-size="8.2" text-anchor="middle" fill="#231f20" stroke="#231f20" stroke-width="0.07" textLength="42.1" lengthAdjust="spacingAndGlyphs">Cells (x 10<tspan dy="-3.0" font-size="6.2">4</tspan><tspan dy="3.0">)</tspan></text>
<path d="M57,178.4 V176 H79.3 V178.4" fill="none" stroke="#231f20" stroke-width="1.2" stroke-linejoin="round"/>
<circle cx="64.45" cy="172.3" r="1.1" fill="#231f20"/>
<circle cx="68.15" cy="172.3" r="1.1" fill="#231f20"/>
<circle cx="71.85" cy="172.3" r="1.1" fill="#231f20"/>
<circle cx="53.6" cy="184" r="1.85" fill="#a8002a"/>
<circle cx="58.3" cy="186.2" r="1.85" fill="#a8002a"/>
<circle cx="51" cy="193.8" r="1.85" fill="#a8002a"/>
<circle cx="56.1" cy="193.8" r="1.85" fill="#a8002a"/>
<circle cx="60.7" cy="193.8" r="1.85" fill="#a8002a"/>
<circle cx="51" cy="200.6" r="1.85" fill="#a8002a"/>
<circle cx="56.1" cy="202.3" r="1.85" fill="#a8002a"/>
<circle cx="58.3" cy="203.6" r="1.85" fill="#a8002a"/>
<circle cx="60.7" cy="198" r="1.85" fill="#a8002a"/>
<circle cx="53.6" cy="207" r="1.85" fill="#a8002a"/>
<line x1="49.3" y1="196.4" x2="62" y2="196.4" stroke="#231f20" stroke-width="1.1" />
<line x1="55.65" y1="194.6" x2="55.65" y2="198.2" stroke="#231f20" stroke-width="0.9900000000000001" />
<line x1="53.65" y1="194.6" x2="57.65" y2="194.6" stroke="#231f20" stroke-width="0.9900000000000001" />
<line x1="53.65" y1="198.2" x2="57.65" y2="198.2" stroke="#231f20" stroke-width="0.9900000000000001" />
<circle cx="75.3" cy="202" r="1.55" fill="none" stroke="#4a6aa8" stroke-width="0.9"/>
<circle cx="75.3" cy="210.8" r="1.55" fill="none" stroke="#4a6aa8" stroke-width="0.9"/>
<circle cx="70.5" cy="216.7" r="1.55" fill="none" stroke="#4a6aa8" stroke-width="0.9"/>
<circle cx="80.3" cy="216.7" r="1.55" fill="none" stroke="#4a6aa8" stroke-width="0.9"/>
<circle cx="75.3" cy="223.5" r="1.55" fill="none" stroke="#4a6aa8" stroke-width="0.9"/>
<circle cx="72.2" cy="214" r="1.55" fill="none" stroke="#4a6aa8" stroke-width="0.9"/>
<circle cx="78.4" cy="214" r="1.55" fill="none" stroke="#4a6aa8" stroke-width="0.9"/>
<circle cx="75.3" cy="216.5" r="1.55" fill="none" stroke="#4a6aa8" stroke-width="0.9"/>
<line x1="68.8" y1="214.7" x2="81.5" y2="214.7" stroke="#231f20" stroke-width="1.1" />
<line x1="75.15" y1="213.2" x2="75.15" y2="216.2" stroke="#231f20" stroke-width="0.9900000000000001" />
<line x1="73.15" y1="213.2" x2="77.15" y2="213.2" stroke="#231f20" stroke-width="0.9900000000000001" />
<line x1="73.15" y1="216.2" x2="77.15" y2="216.2" stroke="#231f20" stroke-width="0.9900000000000001" />
<text x="59.2" y="267" font-size="8.2" text-anchor="start" fill="#231f20" stroke="#231f20" stroke-width="0.07" font-weight="normal" textLength="13.1" lengthAdjust="spacingAndGlyphs" >LSK</text>
<line x1="126.3" y1="172.3" x2="126.3" y2="210.9" stroke="#231f20" stroke-width="1.3" />
<line x1="123.7" y1="210.5" x2="126.3" y2="210.5" stroke="#231f20" stroke-width="1.2" />
<text transform="translate(120.2,213.5) scale(0.93,1)" font-size="8.5" text-anchor="end" fill="#231f20" stroke="#231f20" stroke-width="0.07" font-weight="normal" >40</text>
<line x1="123.7" y1="192.25" x2="126.3" y2="192.25" stroke="#231f20" stroke-width="1.2" />
<text transform="translate(120.2,195.25) scale(0.93,1)" font-size="8.5" text-anchor="end" fill="#231f20" stroke="#231f20" stroke-width="0.07" font-weight="normal" >80</text>
<line x1="123.7" y1="174" x2="126.3" y2="174" stroke="#231f20" stroke-width="1.2" />
<text transform="translate(120.2,177) scale(0.93,1)" font-size="8.5" text-anchor="end" fill="#231f20" stroke="#231f20" stroke-width="0.07" font-weight="normal" >120</text>
<line x1="126.3" y1="216.3" x2="126.3" y2="253.85" stroke="#231f20" stroke-width="1.3" />
<line x1="125.65" y1="253.2" x2="246" y2="253.2" stroke="#231f20" stroke-width="1.3" />
<line x1="123.7" y1="253.2" x2="126.3" y2="253.2" stroke="#231f20" stroke-width="1.1700000000000002" />
<text transform="translate(120.2,256.22) scale(0.93,1)" font-size="8.5" text-anchor="end" fill="#231f20" stroke="#231f20" stroke-width="0.07" font-weight="normal" >0</text>
<line x1="123.7" y1="241.2" x2="126.3" y2="241.2" stroke="#231f20" stroke-width="1.1700000000000002" />
<text transform="translate(120.2,244.22) scale(0.93,1)" font-size="8.5" text-anchor="end" fill="#231f20" stroke="#231f20" stroke-width="0.07" font-weight="normal" >5</text>
<line x1="123.7" y1="229.2" x2="126.3" y2="229.2" stroke="#231f20" stroke-width="1.1700000000000002" />
<text transform="translate(120.2,232.22) scale(0.93,1)" font-size="8.5" text-anchor="end" fill="#231f20" stroke="#231f20" stroke-width="0.07" font-weight="normal" >10</text>
<line x1="123.7" y1="217.2" x2="126.3" y2="217.2" stroke="#231f20" stroke-width="1.1700000000000002" />
<text transform="translate(120.2,220.22) scale(0.93,1)" font-size="8.5" text-anchor="end" fill="#231f20" stroke="#231f20" stroke-width="0.07" font-weight="normal" >15</text>
<line x1="133.9" y1="253.2" x2="133.9" y2="256" stroke="#231f20" stroke-width="1.1700000000000002" />
<line x1="148.9" y1="253.2" x2="148.9" y2="256" stroke="#231f20" stroke-width="1.1700000000000002" />
<line x1="163.8" y1="253.2" x2="163.8" y2="256" stroke="#231f20" stroke-width="1.1700000000000002" />
<line x1="178.7" y1="253.2" x2="178.7" y2="256" stroke="#231f20" stroke-width="1.1700000000000002" />
<line x1="193.5" y1="253.2" x2="193.5" y2="256" stroke="#231f20" stroke-width="1.1700000000000002" />
<line x1="208.3" y1="253.2" x2="208.3" y2="256" stroke="#231f20" stroke-width="1.1700000000000002" />
<line x1="223.3" y1="253.2" x2="223.3" y2="256" stroke="#231f20" stroke-width="1.1700000000000002" />
<line x1="238.3" y1="253.2" x2="238.3" y2="256" stroke="#231f20" stroke-width="1.1700000000000002" />
<text transform="translate(102.28,211.85) rotate(-90)" font-size="8.2" text-anchor="middle" fill="#231f20" stroke="#231f20" stroke-width="0.07" textLength="42.5" lengthAdjust="spacingAndGlyphs">Cells (x 10<tspan dy="-3.0" font-size="6.2">3</tspan><tspan dy="3.0">)</tspan></text>
<circle cx="135.2" cy="177" r="3.0" fill="#a8002a"/>
<text x="141" y="179.7" font-size="8.1" text-anchor="start" fill="#231f20" stroke="#231f20" stroke-width="0.07" font-weight="normal" textLength="39.1" lengthAdjust="spacingAndGlyphs" >Control IgG</text>
<circle cx="135.1" cy="187.8" r="2.7" fill="none" stroke="#4a6aa8" stroke-width="1.0"/>
<text x="141" y="190.1" font-size="8.1" text-anchor="start" fill="#231f20" stroke="#231f20" stroke-width="0.07" font-weight="normal" textLength="44.4" lengthAdjust="spacingAndGlyphs" >anti-(TNF-α +</text>
<text x="141" y="198.8" font-size="8.1" text-anchor="start" fill="#231f20" stroke="#231f20" stroke-width="0.07" font-weight="normal" textLength="39.6" lengthAdjust="spacingAndGlyphs" >IL-1β + IL-6)</text>
<path d="M132.8,223.5 V220.9 H149.7 V223.5" fill="none" stroke="#231f20" stroke-width="1.2" stroke-linejoin="round"/>
<circle cx="141.25" cy="217.2" r="1.1" fill="#231f20"/>
<path d="M193.3,221.4 V219.4 H209.6 V221.4" fill="none" stroke="#231f20" stroke-width="1.2" stroke-linejoin="round"/>
<circle cx="197.75" cy="215.6" r="1.1" fill="#231f20"/>
<circle cx="201.45" cy="215.6" r="1.1" fill="#231f20"/>
<circle cx="205.15" cy="215.6" r="1.1" fill="#231f20"/>
<path d="M222.2,177 V174.8 H239 V177" fill="none" stroke="#231f20" stroke-width="1.2" stroke-linejoin="round"/>
<circle cx="226.9" cy="171" r="1.1" fill="#231f20"/>
<circle cx="230.6" cy="171" r="1.1" fill="#231f20"/>
<circle cx="234.3" cy="171" r="1.1" fill="#231f20"/>
<circle cx="133.6" cy="228.6" r="1.85" fill="#a8002a"/>
<circle cx="133.6" cy="233.2" r="1.85" fill="#a8002a"/>
<circle cx="129" cy="234.4" r="1.85" fill="#a8002a"/>
<circle cx="136.5" cy="236" r="1.85" fill="#a8002a"/>
<circle cx="131.3" cy="239.5" r="1.85" fill="#a8002a"/>
<circle cx="135" cy="238.5" r="1.85" fill="#a8002a"/>
<circle cx="128.6" cy="240" r="1.85" fill="#a8002a"/>
<circle cx="131.3" cy="242.4" r="1.85" fill="#a8002a"/>
<circle cx="136.5" cy="242.4" r="1.85" fill="#a8002a"/>
<line x1="128.4" y1="237.2" x2="138.8" y2="237.2" stroke="#231f20" stroke-width="1.1" />
<line x1="133.6" y1="235.8" x2="133.6" y2="238.6" stroke="#231f20" stroke-width="0.9900000000000001" />
<line x1="131.6" y1="235.8" x2="135.6" y2="235.8" stroke="#231f20" stroke-width="0.9900000000000001" />
<line x1="131.6" y1="238.6" x2="135.6" y2="238.6" stroke="#231f20" stroke-width="0.9900000000000001" />
<circle cx="145.5" cy="237.5" r="1.55" fill="none" stroke="#4a6aa8" stroke-width="0.9"/>
<circle cx="148.5" cy="237.5" r="1.55" fill="none" stroke="#4a6aa8" stroke-width="0.9"/>
<circle cx="151.3" cy="238.5" r="1.55" fill="none" stroke="#4a6aa8" stroke-width="0.9"/>
<circle cx="143.5" cy="244" r="1.55" fill="none" stroke="#4a6aa8" stroke-width="0.9"/>
<circle cx="146.5" cy="244.5" r="1.55" fill="none" stroke="#4a6aa8" stroke-width="0.9"/>
<circle cx="149.5" cy="244.5" r="1.55" fill="none" stroke="#4a6aa8" stroke-width="0.9"/>
<circle cx="152.5" cy="244" r="1.55" fill="none" stroke="#4a6aa8" stroke-width="0.9"/>
<line x1="142.2" y1="241.2" x2="153.7" y2="241.2" stroke="#231f20" stroke-width="1.1" />
<line x1="147.95" y1="240.2" x2="147.95" y2="242.2" stroke="#231f20" stroke-width="0.9900000000000001" />
<line x1="145.95" y1="240.2" x2="149.95" y2="240.2" stroke="#231f20" stroke-width="0.9900000000000001" />
<line x1="145.95" y1="242.2" x2="149.95" y2="242.2" stroke="#231f20" stroke-width="0.9900000000000001" />
<circle cx="163.8" cy="219.5" r="1.85" fill="#a8002a"/>
<circle cx="161.5" cy="222.9" r="1.85" fill="#a8002a"/>
<circle cx="165.7" cy="223.5" r="1.85" fill="#a8002a"/>
<circle cx="163.8" cy="226" r="1.85" fill="#a8002a"/>
<circle cx="161.5" cy="228" r="1.85" fill="#a8002a"/>
<circle cx="165.7" cy="229.8" r="1.85" fill="#a8002a"/>
<circle cx="163.8" cy="232" r="1.85" fill="#a8002a"/>
<line x1="158.8" y1="226" x2="168.6" y2="226" stroke="#231f20" stroke-width="1.1" />
<line x1="163.7" y1="224.6" x2="163.7" y2="227.4" stroke="#231f20" stroke-width="0.9900000000000001" />
<line x1="161.7" y1="224.6" x2="165.7" y2="224.6" stroke="#231f20" stroke-width="0.9900000000000001" />
<line x1="161.7" y1="227.4" x2="165.7" y2="227.4" stroke="#231f20" stroke-width="0.9900000000000001" />
<circle cx="178.5" cy="219.8" r="1.55" fill="none" stroke="#4a6aa8" stroke-width="0.9"/>
<circle cx="175.8" cy="224.5" r="1.55" fill="none" stroke="#4a6aa8" stroke-width="0.9"/>
<circle cx="181.2" cy="224" r="1.55" fill="none" stroke="#4a6aa8" stroke-width="0.9"/>
<circle cx="176" cy="228" r="1.55" fill="none" stroke="#4a6aa8" stroke-width="0.9"/>
<circle cx="181" cy="229" r="1.55" fill="none" stroke="#4a6aa8" stroke-width="0.9"/>
<circle cx="178.5" cy="231" r="1.55" fill="none" stroke="#4a6aa8" stroke-width="0.9"/>
<circle cx="178.5" cy="238" r="1.55" fill="none" stroke="#4a6aa8" stroke-width="0.9"/>
<line x1="173.5" y1="227.5" x2="184" y2="227.5" stroke="#231f20" stroke-width="1.1" />
<line x1="178.75" y1="226" x2="178.75" y2="229" stroke="#231f20" stroke-width="0.9900000000000001" />
<line x1="176.75" y1="226" x2="180.75" y2="226" stroke="#231f20" stroke-width="0.9900000000000001" />
<line x1="176.75" y1="229" x2="180.75" y2="229" stroke="#231f20" stroke-width="0.9900000000000001" />
<circle cx="191.3" cy="233.5" r="1.85" fill="#a8002a"/>
<circle cx="196.2" cy="233.5" r="1.85" fill="#a8002a"/>
<circle cx="189.5" cy="237" r="1.85" fill="#a8002a"/>
<circle cx="194" cy="238" r="1.85" fill="#a8002a"/>
<circle cx="198" cy="239" r="1.85" fill="#a8002a"/>
<circle cx="190.5" cy="241" r="1.85" fill="#a8002a"/>
<circle cx="196" cy="242" r="1.85" fill="#a8002a"/>
<circle cx="193.3" cy="245.4" r="1.85" fill="#a8002a"/>
<line x1="188.3" y1="239" x2="199" y2="239" stroke="#231f20" stroke-width="1.1" />
<line x1="193.65" y1="237.8" x2="193.65" y2="240.2" stroke="#231f20" stroke-width="0.9900000000000001" />
<line x1="191.65" y1="237.8" x2="195.65" y2="237.8" stroke="#231f20" stroke-width="0.9900000000000001" />
<line x1="191.65" y1="240.2" x2="195.65" y2="240.2" stroke="#231f20" stroke-width="0.9900000000000001" />
<circle cx="205.8" cy="243" r="1.55" fill="none" stroke="#4a6aa8" stroke-width="0.9"/>
<circle cx="209.5" cy="244.5" r="1.55" fill="none" stroke="#4a6aa8" stroke-width="0.9"/>
<circle cx="204" cy="247" r="1.55" fill="none" stroke="#4a6aa8" stroke-width="0.9"/>
<circle cx="208" cy="248" r="1.55" fill="none" stroke="#4a6aa8" stroke-width="0.9"/>
<circle cx="212" cy="247" r="1.55" fill="none" stroke="#4a6aa8" stroke-width="0.9"/>
<circle cx="206" cy="250" r="1.55" fill="none" stroke="#4a6aa8" stroke-width="0.9"/>
<circle cx="210" cy="250" r="1.55" fill="none" stroke="#4a6aa8" stroke-width="0.9"/>
<line x1="202.8" y1="246.7" x2="213.5" y2="246.7" stroke="#231f20" stroke-width="1.1" />
<line x1="208.15" y1="245.9" x2="208.15" y2="247.5" stroke="#231f20" stroke-width="0.9900000000000001" />
<line x1="206.15" y1="245.9" x2="210.15" y2="245.9" stroke="#231f20" stroke-width="0.9900000000000001" />
<line x1="206.15" y1="247.5" x2="210.15" y2="247.5" stroke="#231f20" stroke-width="0.9900000000000001" />
<circle cx="225.6" cy="180" r="1.85" fill="#a8002a"/>
<circle cx="221" cy="184.2" r="1.85" fill="#a8002a"/>
<circle cx="218.75" cy="187.3" r="1.85" fill="#a8002a"/>
<circle cx="223.4" cy="188" r="1.85" fill="#a8002a"/>
<circle cx="226.5" cy="191" r="1.85" fill="#a8002a"/>
<circle cx="221.5" cy="192" r="1.85" fill="#a8002a"/>
<circle cx="218.75" cy="196" r="1.85" fill="#a8002a"/>
<circle cx="221" cy="197.8" r="1.85" fill="#a8002a"/>
<circle cx="225.6" cy="196.7" r="1.85" fill="#a8002a"/>
<line x1="218.3" y1="191" x2="228.4" y2="191" stroke="#231f20" stroke-width="1.1" />
<line x1="223.35" y1="189" x2="223.35" y2="193" stroke="#231f20" stroke-width="0.9900000000000001" />
<line x1="221.35" y1="189" x2="225.35" y2="189" stroke="#231f20" stroke-width="0.9900000000000001" />
<line x1="221.35" y1="193" x2="225.35" y2="193" stroke="#231f20" stroke-width="0.9900000000000001" />
<circle cx="238.1" cy="193.6" r="1.55" fill="none" stroke="#4a6aa8" stroke-width="0.9"/>
<circle cx="236" cy="202" r="1.55" fill="none" stroke="#4a6aa8" stroke-width="0.9"/>
<circle cx="240.5" cy="202" r="1.55" fill="none" stroke="#4a6aa8" stroke-width="0.9"/>
<circle cx="235" cy="206" r="1.55" fill="none" stroke="#4a6aa8" stroke-width="0.9"/>
<circle cx="241.5" cy="206" r="1.55" fill="none" stroke="#4a6aa8" stroke-width="0.9"/>
<circle cx="238.1" cy="204" r="1.55" fill="none" stroke="#4a6aa8" stroke-width="0.9"/>
<circle cx="238.1" cy="210.3" r="1.55" fill="none" stroke="#4a6aa8" stroke-width="0.9"/>
<line x1="233" y1="204.2" x2="243.3" y2="204.2" stroke="#231f20" stroke-width="1.1" />
<line x1="238.15" y1="202.8" x2="238.15" y2="205.6" stroke="#231f20" stroke-width="0.9900000000000001" />
<line x1="236.15" y1="202.8" x2="240.15" y2="202.8" stroke="#231f20" stroke-width="0.9900000000000001" />
<line x1="236.15" y1="205.6" x2="240.15" y2="205.6" stroke="#231f20" stroke-width="0.9900000000000001" />
<text x="133.5" y="267.3" font-size="8.2" text-anchor="start" fill="#231f20" stroke="#231f20" stroke-width="0.07" font-weight="normal" textLength="15.5" lengthAdjust="spacingAndGlyphs" >HSC</text>
<text x="157.7" y="267.3" font-size="8.2" text-anchor="start" fill="#231f20" stroke="#231f20" stroke-width="0.07" font-weight="normal" textLength="26.3" lengthAdjust="spacingAndGlyphs" >ST-HSC</text>
<text x="189.5" y="267.3" font-size="8.2" text-anchor="start" fill="#231f20" stroke="#231f20" stroke-width="0.07" font-weight="normal" textLength="22.5" lengthAdjust="spacingAndGlyphs" >HPC-2</text>
<text x="222.9" y="267.3" font-size="8.2" text-anchor="start" fill="#231f20" stroke="#231f20" stroke-width="0.07" font-weight="normal" textLength="15.6" lengthAdjust="spacingAndGlyphs" >MPP</text>
<line x1="46.2" y1="279.5" x2="46.2" y2="362.75" stroke="#231f20" stroke-width="1.3" />
<line x1="45.55" y1="362.1" x2="83.8" y2="362.1" stroke="#231f20" stroke-width="1.3" />
<line x1="43.6" y1="361.9" x2="46.2" y2="361.9" stroke="#231f20" stroke-width="1.1700000000000002" />
<text transform="translate(40.6,364.92) scale(0.93,1)" font-size="8.5" text-anchor="end" fill="#231f20" stroke="#231f20" stroke-width="0.07" font-weight="normal" >0</text>
<line x1="43.6" y1="341.92" x2="46.2" y2="341.92" stroke="#231f20" stroke-width="1.1700000000000002" />
<text transform="translate(40.6,344.94) scale(0.93,1)" font-size="8.5" text-anchor="end" fill="#231f20" stroke="#231f20" stroke-width="0.07" font-weight="normal" >5</text>
<line x1="43.6" y1="321.95" x2="46.2" y2="321.95" stroke="#231f20" stroke-width="1.1700000000000002" />
<text transform="translate(40.6,324.97) scale(0.93,1)" font-size="8.5" text-anchor="end" fill="#231f20" stroke="#231f20" stroke-width="0.07" font-weight="normal" >10</text>
<line x1="43.6" y1="301.97" x2="46.2" y2="301.97" stroke="#231f20" stroke-width="1.1700000000000002" />
<text transform="translate(40.6,304.99) scale(0.93,1)" font-size="8.5" text-anchor="end" fill="#231f20" stroke="#231f20" stroke-width="0.07" font-weight="normal" >15</text>
<line x1="43.6" y1="282" x2="46.2" y2="282" stroke="#231f20" stroke-width="1.1700000000000002" />
<text transform="translate(40.6,285.02) scale(0.93,1)" font-size="8.5" text-anchor="end" fill="#231f20" stroke="#231f20" stroke-width="0.07" font-weight="normal" >20</text>
<line x1="55.9" y1="362.1" x2="55.9" y2="364.9" stroke="#231f20" stroke-width="1.1700000000000002" />
<line x1="75.4" y1="362.1" x2="75.4" y2="364.9" stroke="#231f20" stroke-width="1.1700000000000002" />
<text transform="translate(26.28,319.7) rotate(-90)" font-size="8.2" text-anchor="middle" fill="#231f20" stroke="#231f20" stroke-width="0.07" textLength="42.2" lengthAdjust="spacingAndGlyphs">Cells (x 10<tspan dy="-3.0" font-size="6.2">6</tspan><tspan dy="3.0">)</tspan></text>
<circle cx="56" cy="302.5" r="1.85" fill="#a8002a"/>
<circle cx="56" cy="311.8" r="1.85" fill="#a8002a"/>
<circle cx="56" cy="317.6" r="1.85" fill="#a8002a"/>
<circle cx="51.2" cy="328" r="1.85" fill="#a8002a"/>
<circle cx="56" cy="327" r="1.85" fill="#a8002a"/>
<circle cx="58.3" cy="329" r="1.85" fill="#a8002a"/>
<circle cx="53.6" cy="332.4" r="1.85" fill="#a8002a"/>
<line x1="49.3" y1="321.8" x2="62.6" y2="321.8" stroke="#231f20" stroke-width="1.1" />
<line x1="55.95" y1="318.2" x2="55.95" y2="325.5" stroke="#231f20" stroke-width="0.9900000000000001" />
<line x1="53.95" y1="318.2" x2="57.95" y2="318.2" stroke="#231f20" stroke-width="0.9900000000000001" />
<line x1="53.95" y1="325.5" x2="57.95" y2="325.5" stroke="#231f20" stroke-width="0.9900000000000001" />
<circle cx="70.5" cy="310.8" r="1.55" fill="none" stroke="#4a6aa8" stroke-width="0.9"/>
<circle cx="75.5" cy="310" r="1.55" fill="none" stroke="#4a6aa8" stroke-width="0.9"/>
<circle cx="78" cy="311.8" r="1.55" fill="none" stroke="#4a6aa8" stroke-width="0.9"/>
<circle cx="73.2" cy="312.2" r="1.55" fill="none" stroke="#4a6aa8" stroke-width="0.9"/>
<circle cx="73.2" cy="322.2" r="1.55" fill="none" stroke="#4a6aa8" stroke-width="0.9"/>
<circle cx="78" cy="323.7" r="1.55" fill="none" stroke="#4a6aa8" stroke-width="0.9"/>
<circle cx="73" cy="330.8" r="1.55" fill="none" stroke="#4a6aa8" stroke-width="0.9"/>
<circle cx="78" cy="329.8" r="1.55" fill="none" stroke="#4a6aa8" stroke-width="0.9"/>
<line x1="68.7" y1="319" x2="82" y2="319" stroke="#231f20" stroke-width="1.1" />
<line x1="75.35" y1="315.8" x2="75.35" y2="322.2" stroke="#231f20" stroke-width="0.9900000000000001" />
<line x1="73.35" y1="315.8" x2="77.35" y2="315.8" stroke="#231f20" stroke-width="0.9900000000000001" />
<line x1="73.35" y1="322.2" x2="77.35" y2="322.2" stroke="#231f20" stroke-width="0.9900000000000001" />
<text x="54.5" y="376" font-size="8.2" text-anchor="start" fill="#231f20" stroke="#231f20" stroke-width="0.07" font-weight="normal" textLength="22.3" lengthAdjust="spacingAndGlyphs" >B220<tspan dy="-2.8" font-size="5">+</tspan></text>
<line x1="126.1" y1="281" x2="126.1" y2="362.75" stroke="#231f20" stroke-width="1.3" />
<line x1="125.45" y1="362.1" x2="163" y2="362.1" stroke="#231f20" stroke-width="1.3" />
<line x1="123.5" y1="362.1" x2="126.1" y2="362.1" stroke="#231f20" stroke-width="1.1700000000000002" />
<text transform="translate(120,365.12) scale(0.93,1)" font-size="8.5" text-anchor="end" fill="#231f20" stroke="#231f20" stroke-width="0.07" font-weight="normal" >0</text>
<line x1="123.5" y1="346.22" x2="126.1" y2="346.22" stroke="#231f20" stroke-width="1.1700000000000002" />
<text transform="translate(120,349.24) scale(0.93,1)" font-size="8.5" text-anchor="end" fill="#231f20" stroke="#231f20" stroke-width="0.07" font-weight="normal" >1</text>
<line x1="123.5" y1="330.34" x2="126.1" y2="330.34" stroke="#231f20" stroke-width="1.1700000000000002" />
<text transform="translate(120,333.36) scale(0.93,1)" font-size="8.5" text-anchor="end" fill="#231f20" stroke="#231f20" stroke-width="0.07" font-weight="normal" >2</text>
<line x1="123.5" y1="314.46" x2="126.1" y2="314.46" stroke="#231f20" stroke-width="1.1700000000000002" />
<text transform="translate(120,317.48) scale(0.93,1)" font-size="8.5" text-anchor="end" fill="#231f20" stroke="#231f20" stroke-width="0.07" font-weight="normal" >3</text>
<line x1="123.5" y1="298.58" x2="126.1" y2="298.58" stroke="#231f20" stroke-width="1.1700000000000002" />
<text transform="translate(120,301.6) scale(0.93,1)" font-size="8.5" text-anchor="end" fill="#231f20" stroke="#231f20" stroke-width="0.07" font-weight="normal" >4</text>
<line x1="123.5" y1="282.7" x2="126.1" y2="282.7" stroke="#231f20" stroke-width="1.1700000000000002" />
<text transform="translate(120,285.72) scale(0.93,1)" font-size="8.5" text-anchor="end" fill="#231f20" stroke="#231f20" stroke-width="0.07" font-weight="normal" >5</text>
<line x1="135.7" y1="362.1" x2="135.7" y2="364.9" stroke="#231f20" stroke-width="1.1700000000000002" />
<line x1="155.2" y1="362.1" x2="155.2" y2="364.9" stroke="#231f20" stroke-width="1.1700000000000002" />
<text transform="translate(109.48,320.5) rotate(-90)" font-size="8.2" text-anchor="middle" fill="#231f20" stroke="#231f20" stroke-width="0.07" textLength="40.6" lengthAdjust="spacingAndGlyphs">Cells (x 10<tspan dy="-3.0" font-size="6.2">7</tspan><tspan dy="3.0">)</tspan></text>
<path d="M134.8,292 V289.6 H156.4 V292" fill="none" stroke="#231f20" stroke-width="1.2" stroke-linejoin="round"/>
<circle cx="145.6" cy="285.6" r="1.1" fill="#231f20"/>
<circle cx="135.9" cy="304.8" r="1.85" fill="#a8002a"/>
<circle cx="131.1" cy="315.2" r="1.85" fill="#a8002a"/>
<circle cx="140.8" cy="316.9" r="1.85" fill="#a8002a"/>
<circle cx="135.9" cy="318.7" r="1.85" fill="#a8002a"/>
<circle cx="135.9" cy="324.3" r="1.85" fill="#a8002a"/>
<circle cx="131.1" cy="328.2" r="1.85" fill="#a8002a"/>
<circle cx="140.8" cy="328.6" r="1.85" fill="#a8002a"/>
<circle cx="135.9" cy="330.4" r="1.85" fill="#a8002a"/>
<line x1="129.1" y1="320.8" x2="142.8" y2="320.8" stroke="#231f20" stroke-width="1.1" />
<line x1="135.95" y1="318" x2="135.95" y2="323.6" stroke="#231f20" stroke-width="0.9900000000000001" />
<line x1="133.95" y1="318" x2="137.95" y2="318" stroke="#231f20" stroke-width="0.9900000000000001" />
<line x1="133.95" y1="323.6" x2="137.95" y2="323.6" stroke="#231f20" stroke-width="0.9900000000000001" />
<circle cx="155.4" cy="317.8" r="1.55" fill="none" stroke="#4a6aa8" stroke-width="0.9"/>
<circle cx="150.6" cy="326.25" r="1.55" fill="none" stroke="#4a6aa8" stroke-width="0.9"/>
<circle cx="160.4" cy="326.25" r="1.55" fill="none" stroke="#4a6aa8" stroke-width="0.9"/>
<circle cx="155.4" cy="329" r="1.55" fill="none" stroke="#4a6aa8" stroke-width="0.9"/>
<circle cx="150.6" cy="333" r="1.55" fill="none" stroke="#4a6aa8" stroke-width="0.9"/>
<circle cx="154.1" cy="333.8" r="1.55" fill="none" stroke="#4a6aa8" stroke-width="0.9"/>
<circle cx="157.8" cy="333.4" r="1.55" fill="none" stroke="#4a6aa8" stroke-width="0.9"/>
<line x1="148.9" y1="328.6" x2="162.3" y2="328.6" stroke="#231f20" stroke-width="1.1" />
<line x1="155.6" y1="326.8" x2="155.6" y2="330.4" stroke="#231f20" stroke-width="0.9900000000000001" />
<line x1="153.6" y1="326.8" x2="157.6" y2="326.8" stroke="#231f20" stroke-width="0.9900000000000001" />
<line x1="153.6" y1="330.4" x2="157.6" y2="330.4" stroke="#231f20" stroke-width="0.9900000000000001" />
<text x="131.9" y="376" font-size="8.2" text-anchor="start" fill="#231f20" stroke="#231f20" stroke-width="0.07" font-weight="normal" textLength="30" lengthAdjust="spacingAndGlyphs" >CD11b<tspan dy="-2.8" font-size="5">+</tspan></text>
<line x1="201.6" y1="281" x2="201.6" y2="362.75" stroke="#231f20" stroke-width="1.3" />
<line x1="200.95" y1="362.1" x2="238" y2="362.1" stroke="#231f20" stroke-width="1.3" />
<line x1="199" y1="362.1" x2="201.6" y2="362.1" stroke="#231f20" stroke-width="1.1700000000000002" />
<text transform="translate(195.5,365.12) scale(0.93,1)" font-size="8.5" text-anchor="end" fill="#231f20" stroke="#231f20" stroke-width="0.07" font-weight="normal" >0</text>
<line x1="199" y1="346.22" x2="201.6" y2="346.22" stroke="#231f20" stroke-width="1.1700000000000002" />
<text transform="translate(195.5,349.24) scale(0.93,1)" font-size="8.5" text-anchor="end" fill="#231f20" stroke="#231f20" stroke-width="0.07" font-weight="normal" >1</text>
<line x1="199" y1="330.34" x2="201.6" y2="330.34" stroke="#231f20" stroke-width="1.1700000000000002" />
<text transform="translate(195.5,333.36) scale(0.93,1)" font-size="8.5" text-anchor="end" fill="#231f20" stroke="#231f20" stroke-width="0.07" font-weight="normal" >2</text>
<line x1="199" y1="314.46" x2="201.6" y2="314.46" stroke="#231f20" stroke-width="1.1700000000000002" />
<text transform="translate(195.5,317.48) scale(0.93,1)" font-size="8.5" text-anchor="end" fill="#231f20" stroke="#231f20" stroke-width="0.07" font-weight="normal" >3</text>
<line x1="199" y1="298.58" x2="201.6" y2="298.58" stroke="#231f20" stroke-width="1.1700000000000002" />
<text transform="translate(195.5,301.6) scale(0.93,1)" font-size="8.5" text-anchor="end" fill="#231f20" stroke="#231f20" stroke-width="0.07" font-weight="normal" >4</text>
<line x1="199" y1="282.7" x2="201.6" y2="282.7" stroke="#231f20" stroke-width="1.1700000000000002" />
<text transform="translate(195.5,285.72) scale(0.93,1)" font-size="8.5" text-anchor="end" fill="#231f20" stroke="#231f20" stroke-width="0.07" font-weight="normal" >5</text>
<line x1="210.4" y1="362.1" x2="210.4" y2="364.9" stroke="#231f20" stroke-width="1.1700000000000002" />
<line x1="230.6" y1="362.1" x2="230.6" y2="364.9" stroke="#231f20" stroke-width="1.1700000000000002" />
<text transform="translate(185.38,320.65) rotate(-90)" font-size="8.2" text-anchor="middle" fill="#231f20" stroke="#231f20" stroke-width="0.07" textLength="41.9" lengthAdjust="spacingAndGlyphs">Cells (x 10<tspan dy="-3.0" font-size="6.2">7</tspan><tspan dy="3.0">)</tspan></text>
<path d="M209.6,291.5 V288.9 H231.5 V291.5" fill="none" stroke="#231f20" stroke-width="1.2" stroke-linejoin="round"/>
<circle cx="220.55" cy="285.6" r="1.1" fill="#231f20"/>
<circle cx="211" cy="303.3" r="1.85" fill="#a8002a"/>
<circle cx="206.3" cy="312.9" r="1.85" fill="#a8002a"/>
<circle cx="216" cy="315.5" r="1.85" fill="#a8002a"/>
<circle cx="211" cy="320.5" r="1.85" fill="#a8002a"/>
<circle cx="206.3" cy="327.5" r="1.85" fill="#a8002a"/>
<circle cx="211" cy="329" r="1.85" fill="#a8002a"/>
<circle cx="216" cy="327.5" r="1.85" fill="#a8002a"/>
<line x1="204.5" y1="319.7" x2="217.8" y2="319.7" stroke="#231f20" stroke-width="1.1" />
<line x1="211.15" y1="316.8" x2="211.15" y2="322.6" stroke="#231f20" stroke-width="0.9900000000000001" />
<line x1="209.15" y1="316.8" x2="213.15" y2="316.8" stroke="#231f20" stroke-width="0.9900000000000001" />
<line x1="209.15" y1="322.6" x2="213.15" y2="322.6" stroke="#231f20" stroke-width="0.9900000000000001" />
<circle cx="230.9" cy="316.6" r="1.55" fill="none" stroke="#4a6aa8" stroke-width="0.9"/>
<circle cx="226" cy="325.7" r="1.55" fill="none" stroke="#4a6aa8" stroke-width="0.9"/>
<circle cx="236" cy="324.6" r="1.55" fill="none" stroke="#4a6aa8" stroke-width="0.9"/>
<circle cx="231" cy="328" r="1.55" fill="none" stroke="#4a6aa8" stroke-width="0.9"/>
<circle cx="226" cy="332" r="1.55" fill="none" stroke="#4a6aa8" stroke-width="0.9"/>
<circle cx="230.5" cy="333" r="1.55" fill="none" stroke="#4a6aa8" stroke-width="0.9"/>
<circle cx="235" cy="332" r="1.55" fill="none" stroke="#4a6aa8" stroke-width="0.9"/>
<line x1="224.2" y1="327.9" x2="237.3" y2="327.9" stroke="#231f20" stroke-width="1.1" />
<line x1="230.75" y1="326" x2="230.75" y2="329.8" stroke="#231f20" stroke-width="0.9900000000000001" />
<line x1="228.75" y1="326" x2="232.75" y2="326" stroke="#231f20" stroke-width="0.9900000000000001" />
<line x1="228.75" y1="329.8" x2="232.75" y2="329.8" stroke="#231f20" stroke-width="0.9900000000000001" />
<text x="210.4" y="376" font-size="8.2" text-anchor="start" fill="#231f20" stroke="#231f20" stroke-width="0.07" font-weight="normal" textLength="20.8" lengthAdjust="spacingAndGlyphs" >GR-1<tspan dy="-2.8" font-size="5">+</tspan></text>
<line x1="311.3" y1="178" x2="311.3" y2="258" stroke="#999" stroke-width="0.7" />
<path d="M299,205.67 L299.35,205.56 L299.7,205.42 L300.05,205.25 L300.4,205.05 L300.75,204.82 L301.1,204.54 L301.45,204.23 L301.8,203.85 L302.15,203.42 L302.5,202.93 L302.85,202.35 L303.2,201.68 L303.55,200.92 L303.9,200.05 L304.25,199.05 L304.6,197.94 L304.95,196.69 L305.3,195.32 L305.65,193.84 L306,192.27 L306.35,190.64 L306.7,188.99 L307.05,187.36 L307.4,185.81 L307.75,184.39 L308.1,183.16 L308.45,182.18 L308.8,181.49 L309.15,181.13 L309.5,181.13 L309.85,181.5 L310.2,182.29 L310.55,183.44 L310.9,184.91 L311.25,186.62 L311.6,188.51 L311.95,190.5 L312.3,192.51 L312.65,194.46 L313,196.32 L313.35,198.02 L313.7,199.55 L314.05,200.88 L314.4,202.01 L314.75,202.96 L315.1,203.73 L315.45,204.34 L315.8,204.82 L316.15,205.19 L316.5,205.46 L316.85,205.66 L317.2,205.8 L317.55,205.9 L317.9,205.97 L318.25,206.02 L318.6,206.05 L318.95,206.07 L319.3,206.08 L319.65,206.09 L320,206.09" fill="none" stroke="#555" stroke-width="0.8" stroke-dasharray="1,1"/>
<line x1="285" y1="206.1" x2="364" y2="206.1" stroke="#808080" stroke-width="0.7" stroke-dasharray="2.8,3.2"/>
<line x1="284" y1="219.2" x2="364" y2="219.2" stroke="#bf2f58" stroke-width="0.9" />
<path d="M301,219.2 L301.24,219.2 L301.49,219.2 L301.73,219.19 L301.98,219.19 L302.22,219.19 L302.47,219.18 L302.71,219.17 L302.96,219.16 L303.2,219.15 L303.44,219.13 L303.69,219.11 L303.93,219.08 L304.18,219.03 L304.42,218.98 L304.67,218.91 L304.91,218.83 L305.16,218.72 L305.4,218.59 L305.64,218.42 L305.89,218.22 L306.13,217.98 L306.38,217.69 L306.62,217.35 L306.87,216.94 L307.11,216.48 L307.36,215.94 L307.6,215.33 L307.84,214.64 L308.09,213.88 L308.33,213.03 L308.58,212.11 L308.82,211.12 L309.07,210.07 L309.31,208.96 L309.56,207.81 L309.8,206.64 L310.04,205.46 L310.29,204.29 L310.53,203.16 L310.78,202.08 L311.02,201.07 L311.27,200.17 L311.51,199.38 L311.76,198.73 L312,198.22 L312.24,197.89 L312.49,197.72 L312.73,197.73 L312.98,197.94 L313.22,198.36 L313.47,198.95 L313.71,199.72 L313.96,200.64 L314.2,201.68 L314.44,202.82 L314.69,204.04 L314.93,205.29 L315.18,206.57 L315.42,207.83 L315.67,209.07 L315.91,210.26 L316.16,211.38 L316.4,212.43 L316.64,213.39 L316.89,214.26 L317.13,215.05 L317.38,215.74 L317.62,216.34 L317.87,216.86 L318.11,217.31 L318.36,217.68 L318.6,217.99 L318.84,218.25 L319.09,218.46 L319.33,218.63 L319.58,218.76 L319.82,218.87 L320.07,218.95 L320.31,219.02 L320.56,219.06 L320.8,219.1 L321.04,219.13 L321.29,219.15 L321.53,219.16 L321.78,219.17 L322.02,219.18 L322.27,219.19 L322.51,219.19 L322.76,219.19 L323,219.2 Z" fill="#cf6a8a" stroke="#bf2f58" stroke-width="0.9"/>
<line x1="284" y1="232.3" x2="364" y2="232.3" stroke="#e8982f" stroke-width="0.9" />
<path d="M300,232.26 L300.23,232.24 L300.47,232.22 L300.7,232.2 L300.93,232.17 L301.17,232.14 L301.4,232.09 L301.63,232.03 L301.87,231.96 L302.1,231.88 L302.33,231.77 L302.57,231.64 L302.8,231.49 L303.03,231.31 L303.27,231.09 L303.5,230.84 L303.73,230.55 L303.97,230.22 L304.2,229.83 L304.43,229.39 L304.67,228.9 L304.9,228.35 L305.13,227.74 L305.37,227.06 L305.6,226.33 L305.83,225.54 L306.07,224.7 L306.3,223.8 L306.53,222.86 L306.77,221.88 L307,220.88 L307.23,219.86 L307.47,218.83 L307.7,217.82 L307.93,216.83 L308.17,215.88 L308.4,214.98 L308.63,214.15 L308.87,213.41 L309.1,212.76 L309.33,212.22 L309.57,211.79 L309.8,211.5 L310.03,211.33 L310.27,211.31 L310.5,211.46 L310.73,211.81 L310.97,212.34 L311.2,213.05 L311.43,213.9 L311.67,214.88 L311.9,215.96 L312.13,217.12 L312.37,218.33 L312.6,219.56 L312.83,220.8 L313.07,222.01 L313.3,223.18 L313.53,224.3 L313.77,225.34 L314,226.3 L314.23,227.18 L314.47,227.98 L314.7,228.68 L314.93,229.3 L315.17,229.83 L315.4,230.29 L315.63,230.68 L315.87,231.01 L316.1,231.28 L316.33,231.5 L316.57,231.68 L316.8,231.82 L317.03,231.94 L317.27,232.02 L317.5,232.09 L317.73,232.15 L317.97,232.19 L318.2,232.22 L318.43,232.24 L318.67,232.26 L318.9,232.27 L319.13,232.28 L319.37,232.29 L319.6,232.29 L319.83,232.29 L320.07,232.3 L320.3,232.3 L320.53,232.3 L320.77,232.3 L321,232.3 Z" fill="#f0b468" stroke="#e8982f" stroke-width="0.9"/>
<line x1="284" y1="245.4" x2="364" y2="245.4" stroke="#6db348" stroke-width="0.9" />
<path d="M301,245.4 L301.24,245.4 L301.49,245.39 L301.73,245.39 L301.98,245.39 L302.22,245.38 L302.47,245.38 L302.71,245.37 L302.96,245.36 L303.2,245.34 L303.44,245.32 L303.69,245.29 L303.93,245.25 L304.18,245.2 L304.42,245.14 L304.67,245.05 L304.91,244.95 L305.16,244.82 L305.4,244.66 L305.64,244.47 L305.89,244.23 L306.13,243.95 L306.38,243.61 L306.62,243.22 L306.87,242.77 L307.11,242.24 L307.36,241.65 L307.6,240.98 L307.84,240.24 L308.09,239.43 L308.33,238.56 L308.58,237.62 L308.82,236.63 L309.07,235.61 L309.31,234.56 L309.56,233.51 L309.8,232.47 L310.04,231.46 L310.29,230.5 L310.53,229.62 L310.78,228.84 L311.02,228.16 L311.27,227.62 L311.51,227.22 L311.76,226.98 L312,226.9 L312.24,226.99 L312.49,227.25 L312.73,227.68 L312.98,228.26 L313.22,228.98 L313.47,229.82 L313.71,230.76 L313.96,231.78 L314.2,232.84 L314.44,233.93 L314.69,235.03 L314.93,236.11 L315.18,237.15 L315.42,238.15 L315.67,239.09 L315.91,239.96 L316.16,240.75 L316.4,241.47 L316.64,242.11 L316.89,242.67 L317.13,243.15 L317.38,243.57 L317.62,243.92 L317.87,244.22 L318.11,244.47 L318.36,244.67 L318.6,244.83 L318.84,244.96 L319.09,245.07 L319.33,245.15 L319.58,245.21 L319.82,245.26 L320.07,245.3 L320.31,245.33 L320.56,245.35 L320.8,245.36 L321.04,245.37 L321.29,245.38 L321.53,245.39 L321.78,245.39 L322.02,245.39 L322.27,245.4 L322.51,245.4 L322.76,245.4 L323,245.4 Z" fill="#9ecf84" stroke="#6db348" stroke-width="0.9"/>
<path d="M302,257.98 L302.2,257.98 L302.4,257.97 L302.6,257.96 L302.8,257.94 L303,257.92 L303.2,257.9 L303.4,257.86 L303.6,257.82 L303.8,257.77 L304,257.71 L304.2,257.63 L304.4,257.53 L304.6,257.41 L304.8,257.27 L305,257.1 L305.2,256.89 L305.4,256.65 L305.6,256.37 L305.8,256.04 L306,255.66 L306.2,255.23 L306.4,254.73 L306.6,254.18 L306.8,253.57 L307,252.89 L307.2,252.15 L307.4,251.34 L307.6,250.48 L307.8,249.57 L308,248.61 L308.2,247.62 L308.4,246.6 L308.6,245.57 L308.8,244.53 L309,243.51 L309.2,242.53 L309.4,241.58 L309.6,240.71 L309.8,239.91 L310,239.2 L310.2,238.61 L310.4,238.13 L310.6,237.78 L310.8,237.57 L311,237.5 L311.2,237.57 L311.4,237.78 L311.6,238.13 L311.8,238.61 L312,239.2 L312.2,239.91 L312.4,240.71 L312.6,241.58 L312.8,242.53 L313,243.51 L313.2,244.53 L313.4,245.57 L313.6,246.6 L313.8,247.62 L314,248.61 L314.2,249.57 L314.4,250.48 L314.6,251.34 L314.8,252.15 L315,252.89 L315.2,253.57 L315.4,254.18 L315.6,254.73 L315.8,255.23 L316,255.66 L316.2,256.04 L316.4,256.37 L316.6,256.65 L316.8,256.89 L317,257.1 L317.2,257.27 L317.4,257.41 L317.6,257.53 L317.8,257.63 L318,257.71 L318.2,257.77 L318.4,257.82 L318.6,257.86 L318.8,257.9 L319,257.92 L319.2,257.94 L319.4,257.96 L319.6,257.97 L319.8,257.98 L320,257.98 Z" fill="#7a8cb5" stroke="#34497e" stroke-width="0.9"/>
<line x1="311.3" y1="178" x2="311.3" y2="258" stroke="#777" stroke-width="0.6" stroke-opacity="0.55"/>
<text transform="translate(361,201.6) scale(0.78,1)" font-size="7.6" text-anchor="end" fill="#6b6f86" stroke="#6b6f86" stroke-width="0.07" font-weight="normal" word-spacing="1.3" style="stroke-width:0.2">3.8 ± 3.1</text>
<text transform="translate(361,214.8) scale(0.78,1)" font-size="7.6" text-anchor="end" fill="#c0305a" stroke="#c0305a" stroke-width="0.07" font-weight="normal" word-spacing="1.3" style="stroke-width:0.2">9.4 ± 2.1</text>
<text transform="translate(361,228) scale(0.78,1)" font-size="7.6" text-anchor="end" fill="#e89b32" stroke="#e89b32" stroke-width="0.07" font-weight="normal" word-spacing="1.3" style="stroke-width:0.2">1.8 ± 0.9</text>
<text transform="translate(361,241.6) scale(0.78,1)" font-size="7.6" text-anchor="end" fill="#6fb74a" stroke="#6fb74a" stroke-width="0.07" font-weight="normal" word-spacing="1.3" style="stroke-width:0.2">10.2 ± 1.6</text>
<text transform="translate(361,254.6) scale(0.78,1)" font-size="7.6" text-anchor="end" fill="#3d5a96" stroke="#3d5a96" stroke-width="0.07" font-weight="normal" word-spacing="1.3" style="stroke-width:0.2">12.3 ± 5.7</text>
<rect x="284" y="178" width="80" height="80" fill="none" stroke="#231f20" stroke-width="1.5"/>
<line x1="399.6" y1="178" x2="399.6" y2="258" stroke="#999" stroke-width="0.7" />
<path d="M376,205.51 L376.47,205.41 L376.93,205.3 L377.4,205.17 L377.87,205.03 L378.33,204.87 L378.8,204.7 L379.27,204.51 L379.73,204.3 L380.2,204.07 L380.67,203.82 L381.13,203.56 L381.6,203.27 L382.07,202.97 L382.53,202.65 L383,202.32 L383.47,201.97 L383.93,201.6 L384.4,201.23 L384.87,200.84 L385.33,200.44 L385.8,200.03 L386.27,199.6 L386.73,199.15 L387.2,198.68 L387.67,198.16 L388.13,197.59 L388.6,196.94 L389.07,196.19 L389.53,195.33 L390,194.34 L390.47,193.22 L390.93,191.96 L391.4,190.59 L391.87,189.15 L392.33,187.71 L392.8,186.36 L393.27,185.31 L393.73,184.64 L394.2,184.41 L394.67,184.64 L395.13,185.36 L395.6,186.77 L396.07,188.85 L396.53,191.37 L397,194.07 L397.47,196.71 L397.93,199.08 L398.4,201.06 L398.87,202.63 L399.33,203.79 L399.8,204.61 L400.27,205.16 L400.73,205.52 L401.2,205.75 L401.67,205.89 L402.13,205.97 L402.6,206.02 L403.07,206.06 L403.53,206.07 L404,206.08" fill="none" stroke="#555" stroke-width="0.8" stroke-dasharray="1,1"/>
<line x1="374" y1="206.1" x2="452.8" y2="206.1" stroke="#808080" stroke-width="0.7" stroke-dasharray="2.8,3.2"/>
<line x1="373" y1="219.2" x2="452.8" y2="219.2" stroke="#bf2f58" stroke-width="0.9" />
<path d="M393,219.09 L393.27,219.06 L393.53,219.03 L393.8,218.99 L394.07,218.94 L394.33,218.88 L394.6,218.82 L394.87,218.73 L395.13,218.64 L395.4,218.53 L395.67,218.4 L395.93,218.25 L396.2,218.07 L396.47,217.88 L396.73,217.65 L397,217.4 L397.27,217.11 L397.53,216.79 L397.8,216.44 L398.07,216.04 L398.33,215.62 L398.6,215.15 L398.87,214.64 L399.13,214.1 L399.4,213.52 L399.67,212.9 L399.93,212.26 L400.2,211.58 L400.47,210.88 L400.73,210.16 L401,209.42 L401.27,208.68 L401.53,207.93 L401.8,207.2 L402.07,206.47 L402.33,205.77 L402.6,205.11 L402.87,204.48 L403.13,203.89 L403.4,203.37 L403.67,202.9 L403.93,202.51 L404.2,202.18 L404.47,201.94 L404.73,201.78 L405,201.71 L405.27,201.73 L405.53,201.88 L405.8,202.17 L406.07,202.59 L406.33,203.12 L406.6,203.76 L406.87,204.49 L407.13,205.29 L407.4,206.16 L407.67,207.06 L407.93,208 L408.2,208.94 L408.47,209.88 L408.73,210.8 L409,211.68 L409.27,212.53 L409.53,213.33 L409.8,214.07 L410.07,214.76 L410.33,215.38 L410.6,215.94 L410.87,216.44 L411.13,216.88 L411.4,217.27 L411.67,217.61 L411.93,217.89 L412.2,218.14 L412.47,218.34 L412.73,218.51 L413,218.65 L413.27,218.77 L413.53,218.86 L413.8,218.94 L414.07,219 L414.33,219.05 L414.6,219.08 L414.87,219.11 L415.13,219.13 L415.4,219.15 L415.67,219.16 L415.93,219.17 L416.2,219.18 L416.47,219.19 L416.73,219.19 L417,219.19 Z" fill="#cf6a8a" stroke="#bf2f58" stroke-width="0.9"/>
<line x1="373" y1="232.3" x2="452.8" y2="232.3" stroke="#e8982f" stroke-width="0.9" />
<path d="M393,232.22 L393.27,232.21 L393.53,232.18 L393.8,232.15 L394.07,232.12 L394.33,232.08 L394.6,232.03 L394.87,231.97 L395.13,231.9 L395.4,231.82 L395.67,231.73 L395.93,231.62 L396.2,231.5 L396.47,231.35 L396.73,231.19 L397,231.01 L397.27,230.81 L397.53,230.59 L397.8,230.34 L398.07,230.07 L398.33,229.78 L398.6,229.46 L398.87,229.12 L399.13,228.76 L399.4,228.37 L399.67,227.96 L399.93,227.52 L400.2,227.06 L400.47,226.57 L400.73,226.06 L401,225.5 L401.27,224.91 L401.53,224.28 L401.8,223.61 L402.07,222.9 L402.33,222.16 L402.6,221.4 L402.87,220.65 L403.13,219.92 L403.4,219.26 L403.67,218.69 L403.93,218.24 L404.2,217.95 L404.47,217.85 L404.73,217.97 L405,218.29 L405.27,218.8 L405.53,219.48 L405.8,220.29 L406.07,221.19 L406.33,222.14 L406.6,223.11 L406.87,224.07 L407.13,224.98 L407.4,225.84 L407.67,226.63 L407.93,227.35 L408.2,228 L408.47,228.57 L408.73,229.09 L409,229.54 L409.27,229.95 L409.53,230.3 L409.8,230.61 L410.07,230.88 L410.33,231.12 L410.6,231.32 L410.87,231.49 L411.13,231.64 L411.4,231.77 L411.67,231.87 L411.93,231.96 L412.2,232.03 L412.47,232.09 L412.73,232.13 L413,232.17 L413.27,232.2 L413.53,232.22 L413.8,232.24 L414.07,232.26 L414.33,232.27 L414.6,232.28 L414.87,232.28 L415.13,232.29 L415.4,232.29 L415.67,232.29 L415.93,232.3 L416.2,232.3 L416.47,232.3 L416.73,232.3 L417,232.3 Z" fill="#f0b468" stroke="#e8982f" stroke-width="0.9"/>
<line x1="373" y1="245.4" x2="452.8" y2="245.4" stroke="#6db348" stroke-width="0.9" />
<path d="M393,245.37 L393.27,245.36 L393.53,245.35 L393.8,245.33 L394.07,245.31 L394.33,245.28 L394.6,245.25 L394.87,245.2 L395.13,245.15 L395.4,245.09 L395.67,245.01 L395.93,244.92 L396.2,244.81 L396.47,244.68 L396.73,244.53 L397,244.35 L397.27,244.14 L397.53,243.91 L397.8,243.64 L398.07,243.34 L398.33,243 L398.6,242.63 L398.87,242.22 L399.13,241.78 L399.4,241.31 L399.67,240.8 L399.93,240.27 L400.2,239.72 L400.47,239.15 L400.73,238.57 L401,237.99 L401.27,237.42 L401.53,236.86 L401.8,236.32 L402.07,235.82 L402.33,235.36 L402.6,234.95 L402.87,234.6 L403.13,234.31 L403.4,234.1 L403.67,233.96 L403.93,233.9 L404.2,233.93 L404.47,234.04 L404.73,234.24 L405,234.52 L405.27,234.88 L405.53,235.31 L405.8,235.79 L406.07,236.33 L406.33,236.9 L406.6,237.5 L406.87,238.12 L407.13,238.73 L407.4,239.35 L407.67,239.95 L407.93,240.53 L408.2,241.08 L408.47,241.6 L408.73,242.09 L409,242.53 L409.27,242.94 L409.53,243.3 L409.8,243.63 L410.07,243.91 L410.33,244.16 L410.6,244.38 L410.87,244.56 L411.13,244.72 L411.4,244.85 L411.67,244.96 L411.93,245.05 L412.2,245.13 L412.47,245.19 L412.73,245.23 L413,245.27 L413.27,245.3 L413.53,245.33 L413.8,245.34 L414.07,245.36 L414.33,245.37 L414.6,245.38 L414.87,245.38 L415.13,245.39 L415.4,245.39 L415.67,245.39 L415.93,245.4 L416.2,245.4 L416.47,245.4 L416.73,245.4 L417,245.4 Z" fill="#9ecf84" stroke="#6db348" stroke-width="0.9"/>
<path d="M393,257.92 L393.27,257.89 L393.53,257.85 L393.8,257.8 L394.07,257.74 L394.33,257.66 L394.6,257.56 L394.87,257.43 L395.13,257.28 L395.4,257.09 L395.67,256.86 L395.93,256.59 L396.2,256.28 L396.47,255.91 L396.73,255.48 L397,254.99 L397.27,254.44 L397.53,253.82 L397.8,253.14 L398.07,252.39 L398.33,251.59 L398.6,250.73 L398.87,249.82 L399.13,248.88 L399.4,247.91 L399.67,246.92 L399.93,245.94 L400.2,244.96 L400.47,244.01 L400.73,243.1 L401,242.24 L401.27,241.43 L401.53,240.7 L401.8,240.05 L402.07,239.47 L402.33,238.97 L402.6,238.53 L402.87,238.17 L403.13,237.87 L403.4,237.63 L403.67,237.46 L403.93,237.35 L404.2,237.3 L404.47,237.31 L404.73,237.38 L405,237.51 L405.27,237.7 L405.53,237.95 L405.8,238.26 L406.07,238.63 L406.33,239.06 L406.6,239.56 L406.87,240.11 L407.13,240.76 L407.4,241.5 L407.67,242.32 L407.93,243.22 L408.2,244.18 L408.47,245.18 L408.73,246.21 L409,247.26 L409.27,248.3 L409.53,249.32 L409.8,250.31 L410.07,251.25 L410.33,252.13 L410.6,252.95 L410.87,253.7 L411.13,254.37 L411.4,254.97 L411.67,255.49 L411.93,255.95 L412.2,256.34 L412.47,256.66 L412.73,256.94 L413,257.17 L413.27,257.35 L413.53,257.5 L413.8,257.62 L414.07,257.71 L414.33,257.79 L414.6,257.84 L414.87,257.88 L415.13,257.92 L415.4,257.94 L415.67,257.96 L415.93,257.97 L416.2,257.98 L416.47,257.99 L416.73,257.99 L417,257.99 Z" fill="#7a8cb5" stroke="#34497e" stroke-width="0.9"/>
<line x1="399.6" y1="178" x2="399.6" y2="258" stroke="#777" stroke-width="0.6" stroke-opacity="0.55"/>
<text transform="translate(449.8,201.6) scale(0.78,1)" font-size="7.6" text-anchor="end" fill="#6b6f86" stroke="#6b6f86" stroke-width="0.07" font-weight="normal" word-spacing="1.3" style="stroke-width:0.2">3.2 ± 0.9</text>
<text transform="translate(449.8,214.8) scale(0.78,1)" font-size="7.6" text-anchor="end" fill="#c0305a" stroke="#c0305a" stroke-width="0.07" font-weight="normal" word-spacing="1.3" style="stroke-width:0.2">84.6 ± 1.6</text>
<text transform="translate(449.8,228) scale(0.78,1)" font-size="7.6" text-anchor="end" fill="#e89b32" stroke="#e89b32" stroke-width="0.07" font-weight="normal" word-spacing="1.3" style="stroke-width:0.2">78.1 ± 2.3</text>
<text transform="translate(449.8,241.6) scale(0.78,1)" font-size="7.6" text-anchor="end" fill="#6fb74a" stroke="#6fb74a" stroke-width="0.07" font-weight="normal" word-spacing="1.3" style="stroke-width:0.2">69.0 ± 4.8</text>
<text transform="translate(449.8,254.6) scale(0.78,1)" font-size="7.6" text-anchor="end" fill="#3d5a96" stroke="#3d5a96" stroke-width="0.07" font-weight="normal" word-spacing="1.3" style="stroke-width:0.2">77.4 ± 3.7</text>
<rect x="373" y="178" width="79.8" height="80" fill="none" stroke="#231f20" stroke-width="1.5"/>
<line x1="308.6" y1="280.3" x2="308.6" y2="360.3" stroke="#999" stroke-width="0.7" />
<path d="M287,307.87 L287.45,307.78 L287.9,307.66 L288.35,307.53 L288.8,307.39 L289.25,307.22 L289.7,307.04 L290.15,306.84 L290.6,306.62 L291.05,306.38 L291.5,306.12 L291.95,305.83 L292.4,305.54 L292.85,305.22 L293.3,304.89 L293.75,304.54 L294.2,304.18 L294.65,303.82 L295.1,303.45 L295.55,303.07 L296,302.69 L296.45,302.3 L296.9,301.92 L297.35,301.52 L297.8,301.1 L298.25,300.66 L298.7,300.19 L299.15,299.66 L299.6,299.07 L300.05,298.4 L300.5,297.63 L300.95,296.76 L301.4,295.8 L301.85,294.75 L302.3,293.65 L302.75,292.53 L303.2,291.43 L303.65,290.41 L304.1,289.52 L304.55,288.84 L305,288.4 L305.45,288.27 L305.9,288.46 L306.35,289.11 L306.8,290.47 L307.25,292.4 L307.7,294.69 L308.15,297.11 L308.6,299.44 L309.05,301.52 L309.5,303.27 L309.95,304.65 L310.4,305.7 L310.85,306.46 L311.3,306.99 L311.75,307.37 L312.2,307.63 L312.65,307.81 L313.1,307.94 L313.55,308.05 L314,308.12" fill="none" stroke="#555" stroke-width="0.8" stroke-dasharray="1,1"/>
<line x1="285" y1="308.4" x2="364" y2="308.4" stroke="#808080" stroke-width="0.7" stroke-dasharray="2.8,3.2"/>
<line x1="284" y1="321.5" x2="364" y2="321.5" stroke="#bf2f58" stroke-width="0.9" />
<path d="M294,321.36 L294.34,321.33 L294.69,321.29 L295.03,321.24 L295.38,321.19 L295.72,321.13 L296.07,321.06 L296.41,320.98 L296.76,320.89 L297.1,320.79 L297.44,320.68 L297.79,320.55 L298.13,320.42 L298.48,320.26 L298.82,320.1 L299.17,319.92 L299.51,319.73 L299.86,319.53 L300.2,319.32 L300.54,319.1 L300.89,318.87 L301.23,318.64 L301.58,318.41 L301.92,318.17 L302.27,317.94 L302.61,317.71 L302.96,317.49 L303.3,317.27 L303.64,317.07 L303.99,316.87 L304.33,316.69 L304.68,316.51 L305.02,316.34 L305.37,316.18 L305.71,316.02 L306.06,315.86 L306.4,315.69 L306.74,315.5 L307.09,315.29 L307.43,315.04 L307.78,314.76 L308.12,314.44 L308.47,314.06 L308.81,313.63 L309.16,313.14 L309.5,312.6 L309.84,312 L310.19,311.37 L310.53,310.7 L310.88,310.02 L311.22,309.34 L311.57,308.69 L311.91,308.08 L312.26,307.53 L312.6,307.07 L312.94,306.72 L313.29,306.49 L313.63,306.41 L313.98,306.46 L314.32,306.68 L314.67,307.06 L315.01,307.6 L315.36,308.28 L315.7,309.09 L316.04,309.99 L316.39,310.96 L316.73,311.97 L317.08,312.99 L317.42,314 L317.77,314.97 L318.11,315.89 L318.46,316.74 L318.8,317.52 L319.14,318.21 L319.49,318.82 L319.83,319.34 L320.18,319.79 L320.52,320.16 L320.87,320.46 L321.21,320.7 L321.56,320.9 L321.9,321.05 L322.24,321.17 L322.59,321.26 L322.93,321.33 L323.28,321.38 L323.62,321.42 L323.97,321.44 L324.31,321.46 L324.66,321.47 L325,321.48 Z" fill="#cf6a8a" stroke="#bf2f58" stroke-width="0.9"/>
<line x1="284" y1="334.6" x2="364" y2="334.6" stroke="#e8982f" stroke-width="0.9" />
<path d="M296,334.5 L296.33,334.47 L296.67,334.44 L297,334.4 L297.33,334.35 L297.67,334.29 L298,334.23 L298.33,334.15 L298.67,334.07 L299,333.98 L299.33,333.89 L299.67,333.79 L300,333.69 L300.33,333.59 L300.67,333.49 L301,333.4 L301.33,333.31 L301.67,333.24 L302,333.18 L302.33,333.13 L302.67,333.1 L303,333.08 L303.33,333.08 L303.67,333.08 L304,333.1 L304.33,333.12 L304.67,333.13 L305,333.13 L305.33,333.11 L305.67,333.05 L306,332.93 L306.33,332.75 L306.67,332.48 L307,332.12 L307.33,331.63 L307.67,331.01 L308,330.25 L308.33,329.35 L308.67,328.3 L309,327.11 L309.33,325.81 L309.67,324.42 L310,322.98 L310.33,321.53 L310.67,320.13 L311,318.83 L311.33,317.69 L311.67,316.76 L312,316.08 L312.33,315.69 L312.67,315.6 L313,315.74 L313.33,316.09 L313.67,316.62 L314,317.33 L314.33,318.19 L314.67,319.18 L315,320.26 L315.33,321.41 L315.67,322.6 L316,323.8 L316.33,324.98 L316.67,326.13 L317,327.22 L317.33,328.24 L317.67,329.18 L318,330.02 L318.33,330.78 L318.67,331.45 L319,332.03 L319.33,332.52 L319.67,332.94 L320,333.29 L320.33,333.58 L320.67,333.81 L321,333.99 L321.33,334.14 L321.67,334.26 L322,334.35 L322.33,334.41 L322.67,334.47 L323,334.5 L323.33,334.53 L323.67,334.55 L324,334.57 L324.33,334.58 L324.67,334.58 L325,334.59 L325.33,334.59 L325.67,334.6 L326,334.6 Z" fill="#f0b468" stroke="#e8982f" stroke-width="0.9"/>
<line x1="284" y1="347.7" x2="364" y2="347.7" stroke="#6db348" stroke-width="0.9" />
<path d="M294,347.6 L294.36,347.57 L294.71,347.54 L295.07,347.49 L295.42,347.44 L295.78,347.38 L296.13,347.31 L296.49,347.23 L296.84,347.14 L297.2,347.03 L297.56,346.9 L297.91,346.76 L298.27,346.61 L298.62,346.44 L298.98,346.25 L299.33,346.05 L299.69,345.84 L300.04,345.61 L300.4,345.38 L300.76,345.14 L301.11,344.89 L301.47,344.65 L301.82,344.41 L302.18,344.18 L302.53,343.96 L302.89,343.76 L303.24,343.57 L303.6,343.41 L303.96,343.27 L304.31,343.14 L304.67,343.04 L305.02,342.95 L305.38,342.87 L305.73,342.8 L306.09,342.73 L306.44,342.63 L306.8,342.52 L307.16,342.37 L307.51,342.16 L307.87,341.9 L308.22,341.57 L308.58,341.17 L308.93,340.69 L309.29,340.13 L309.64,339.5 L310,338.8 L310.36,338.07 L310.71,337.31 L311.07,336.56 L311.42,335.84 L311.78,335.18 L312.13,334.61 L312.49,334.17 L312.84,333.86 L313.2,333.72 L313.56,333.75 L313.91,333.95 L314.27,334.33 L314.62,334.86 L314.98,335.54 L315.33,336.34 L315.69,337.23 L316.04,338.18 L316.4,339.16 L316.76,340.15 L317.11,341.11 L317.47,342.03 L317.82,342.89 L318.18,343.68 L318.53,344.38 L318.89,345 L319.24,345.53 L319.6,345.99 L319.96,346.36 L320.31,346.67 L320.67,346.92 L321.02,347.12 L321.38,347.27 L321.73,347.39 L322.09,347.48 L322.44,347.54 L322.8,347.59 L323.16,347.62 L323.51,347.65 L323.87,347.67 L324.22,347.68 L324.58,347.69 L324.93,347.69 L325.29,347.69 L325.64,347.7 L326,347.7 Z" fill="#9ecf84" stroke="#6db348" stroke-width="0.9"/>
<path d="M303,360.3 L303.27,360.3 L303.53,360.29 L303.8,360.29 L304.07,360.29 L304.33,360.28 L304.6,360.27 L304.87,360.26 L305.13,360.25 L305.4,360.23 L305.67,360.21 L305.93,360.18 L306.2,360.14 L306.47,360.09 L306.73,360.02 L307,359.94 L307.27,359.84 L307.53,359.71 L307.8,359.55 L308.07,359.36 L308.33,359.13 L308.6,358.85 L308.87,358.53 L309.13,358.14 L309.4,357.7 L309.67,357.19 L309.93,356.6 L310.2,355.95 L310.47,355.21 L310.73,354.4 L311,353.51 L311.27,352.55 L311.53,351.52 L311.8,350.44 L312.07,349.3 L312.33,348.14 L312.6,346.96 L312.87,345.77 L313.13,344.61 L313.4,343.49 L313.67,342.43 L313.93,341.45 L314.2,340.57 L314.47,339.82 L314.73,339.2 L315,338.74 L315.27,338.44 L315.53,338.31 L315.8,338.34 L316.07,338.52 L316.33,338.84 L316.6,339.29 L316.87,339.86 L317.13,340.55 L317.4,341.34 L317.67,342.22 L317.93,343.17 L318.2,344.17 L318.47,345.21 L318.73,346.28 L319,347.36 L319.27,348.43 L319.53,349.49 L319.8,350.51 L320.07,351.5 L320.33,352.44 L320.6,353.32 L320.87,354.14 L321.13,354.91 L321.4,355.6 L321.67,356.24 L321.93,356.81 L322.2,357.32 L322.47,357.78 L322.73,358.17 L323,358.52 L323.27,358.82 L323.53,359.08 L323.8,359.3 L324.07,359.48 L324.33,359.64 L324.6,359.77 L324.87,359.87 L325.13,359.96 L325.4,360.03 L325.67,360.09 L325.93,360.14 L326.2,360.17 L326.47,360.2 L326.73,360.23 L327,360.24 Z" fill="#7a8cb5" stroke="#34497e" stroke-width="0.9"/>
<line x1="308.6" y1="280.3" x2="308.6" y2="360.3" stroke="#777" stroke-width="0.6" stroke-opacity="0.55"/>
<text transform="translate(361,303.9) scale(0.78,1)" font-size="7.6" text-anchor="end" fill="#6b6f86" stroke="#6b6f86" stroke-width="0.07" font-weight="normal" word-spacing="1.3" style="stroke-width:0.2">3.3 ± 1.0</text>
<text transform="translate(361,317.1) scale(0.78,1)" font-size="7.6" text-anchor="end" fill="#c0305a" stroke="#c0305a" stroke-width="0.07" font-weight="normal" word-spacing="1.3" style="stroke-width:0.2">50.8 ± 3.2</text>
<text transform="translate(361,330.3) scale(0.78,1)" font-size="7.6" text-anchor="end" fill="#e89b32" stroke="#e89b32" stroke-width="0.07" font-weight="normal" word-spacing="1.3" style="stroke-width:0.2">58.6 ± 1.7</text>
<text transform="translate(361,343.9) scale(0.78,1)" font-size="7.6" text-anchor="end" fill="#6fb74a" stroke="#6fb74a" stroke-width="0.07" font-weight="normal" word-spacing="1.3" style="stroke-width:0.2">52.9 ± 2.2</text>
<text transform="translate(361,356.9) scale(0.78,1)" font-size="7.6" text-anchor="end" fill="#3d5a96" stroke="#3d5a96" stroke-width="0.07" font-weight="normal" word-spacing="1.3" style="stroke-width:0.2">75.0 ± 1.9</text>
<rect x="284" y="280.3" width="80" height="80" fill="none" stroke="#231f20" stroke-width="1.5"/>
<line x1="402.7" y1="280.3" x2="402.7" y2="360.3" stroke="#999" stroke-width="0.7" />
<path d="M376,308.4 L376.6,308.39 L377.2,308.39 L377.8,308.39 L378.4,308.38 L379,308.36 L379.6,308.34 L380.2,308.3 L380.8,308.25 L381.4,308.18 L382,308.07 L382.6,307.92 L383.2,307.71 L383.8,307.43 L384.4,307.06 L385,306.58 L385.6,305.97 L386.2,305.22 L386.8,304.31 L387.4,303.23 L388,301.99 L388.6,300.58 L389.2,299.02 L389.8,297.36 L390.4,295.63 L391,293.88 L391.6,292.19 L392.2,290.61 L392.8,289.21 L393.4,288.05 L394,287.19 L394.6,286.65 L395.2,286.52 L395.8,287.3 L396.4,289.03 L397,291.43 L397.6,294.15 L398.2,296.86 L398.8,299.28 L399.4,301.26 L400,302.75 L400.6,303.78 L401.2,304.44 L401.8,304.83 L402.4,305.06 L403,305.21 L403.6,305.34 L404.2,305.49 L404.8,305.67 L405.4,305.89 L406,306.13 L406.6,306.4 L407.2,306.67 L407.8,306.94 L408.4,307.19 L409,307.43 L409.6,307.63 L410.2,307.81 L410.8,307.95 L411.4,308.07 L412,308.16" fill="none" stroke="#555" stroke-width="0.8" stroke-dasharray="1,1"/>
<line x1="374" y1="308.4" x2="452" y2="308.4" stroke="#808080" stroke-width="0.7" stroke-dasharray="2.8,3.2"/>
<line x1="373" y1="321.5" x2="452" y2="321.5" stroke="#bf2f58" stroke-width="0.9" />
<path d="M390,321.42 L390.33,321.4 L390.67,321.39 L391,321.37 L391.33,321.34 L391.67,321.31 L392,321.28 L392.33,321.23 L392.67,321.18 L393,321.1 L393.33,321.01 L393.67,320.88 L394,320.71 L394.33,320.48 L394.67,320.18 L395,319.8 L395.33,319.31 L395.67,318.71 L396,317.96 L396.33,317.07 L396.67,316.03 L397,314.84 L397.33,313.52 L397.67,312.11 L398,310.64 L398.33,309.16 L398.67,307.74 L399,306.44 L399.33,305.32 L399.67,304.44 L400,303.85 L400.33,303.57 L400.67,303.68 L401,304.19 L401.33,305.06 L401.67,306.2 L402,307.52 L402.33,308.93 L402.67,310.34 L403,311.67 L403.33,312.86 L403.67,313.88 L404,314.73 L404.33,315.39 L404.67,315.9 L405,316.26 L405.33,316.52 L405.67,316.69 L406,316.8 L406.33,316.86 L406.67,316.91 L407,316.94 L407.33,316.97 L407.67,317.01 L408,317.05 L408.33,317.1 L408.67,317.17 L409,317.24 L409.33,317.33 L409.67,317.42 L410,317.53 L410.33,317.64 L410.67,317.77 L411,317.9 L411.33,318.03 L411.67,318.17 L412,318.32 L412.33,318.47 L412.67,318.62 L413,318.77 L413.33,318.92 L413.67,319.07 L414,319.22 L414.33,319.37 L414.67,319.51 L415,319.65 L415.33,319.78 L415.67,319.91 L416,320.04 L416.33,320.16 L416.67,320.27 L417,320.38 L417.33,320.48 L417.67,320.57 L418,320.66 L418.33,320.74 L418.67,320.82 L419,320.89 L419.33,320.96 L419.67,321.02 L420,321.07 Z" fill="#cf6a8a" stroke="#bf2f58" stroke-width="0.9"/>
<line x1="373" y1="334.6" x2="452" y2="334.6" stroke="#e8982f" stroke-width="0.9" />
<path d="M390,334.59 L390.33,334.58 L390.67,334.57 L391,334.56 L391.33,334.55 L391.67,334.53 L392,334.49 L392.33,334.45 L392.67,334.38 L393,334.28 L393.33,334.14 L393.67,333.96 L394,333.71 L394.33,333.37 L394.67,332.95 L395,332.4 L395.33,331.73 L395.67,330.93 L396,329.98 L396.33,328.9 L396.67,327.69 L397,326.4 L397.33,325.05 L397.67,323.69 L398,322.37 L398.33,321.16 L398.67,320.12 L399,319.28 L399.33,318.69 L399.67,318.38 L400,318.41 L400.33,318.79 L400.67,319.48 L401,320.41 L401.33,321.48 L401.67,322.62 L402,323.74 L402.33,324.79 L402.67,325.72 L403,326.5 L403.33,327.11 L403.67,327.58 L404,327.92 L404.33,328.15 L404.67,328.29 L405,328.38 L405.33,328.44 L405.67,328.48 L406,328.52 L406.33,328.57 L406.67,328.64 L407,328.73 L407.33,328.85 L407.67,328.99 L408,329.16 L408.33,329.35 L408.67,329.57 L409,329.8 L409.33,330.04 L409.67,330.29 L410,330.56 L410.33,330.83 L410.67,331.1 L411,331.36 L411.33,331.63 L411.67,331.88 L412,332.13 L412.33,332.37 L412.67,332.6 L413,332.81 L413.33,333.01 L413.67,333.19 L414,333.36 L414.33,333.52 L414.67,333.66 L415,333.79 L415.33,333.9 L415.67,334 L416,334.09 L416.33,334.17 L416.67,334.24 L417,334.3 L417.33,334.35 L417.67,334.39 L418,334.43 L418.33,334.46 L418.67,334.49 L419,334.51 L419.33,334.53 L419.67,334.54 L420,334.55 Z" fill="#f0b468" stroke="#e8982f" stroke-width="0.9"/>
<line x1="373" y1="347.7" x2="452" y2="347.7" stroke="#6db348" stroke-width="0.9" />
<path d="M385,347.7 L385.39,347.69 L385.78,347.69 L386.17,347.68 L386.56,347.67 L386.94,347.65 L387.33,347.63 L387.72,347.59 L388.11,347.54 L388.5,347.46 L388.89,347.36 L389.28,347.22 L389.67,347.04 L390.06,346.8 L390.44,346.49 L390.83,346.11 L391.22,345.64 L391.61,345.08 L392,344.41 L392.39,343.65 L392.78,342.79 L393.17,341.84 L393.56,340.82 L393.94,339.76 L394.33,338.69 L394.72,337.62 L395.11,336.61 L395.5,335.69 L395.89,334.89 L396.28,334.24 L396.67,333.75 L397.06,333.45 L397.44,333.27 L397.83,333.17 L398.22,333.15 L398.61,333.2 L399,333.31 L399.39,333.46 L399.78,333.65 L400.17,333.86 L400.56,334.09 L400.94,334.32 L401.33,334.56 L401.72,334.79 L402.11,335.01 L402.5,335.24 L402.89,335.46 L403.28,335.68 L403.67,335.9 L404.06,336.13 L404.44,336.37 L404.83,336.63 L405.22,336.89 L405.61,337.15 L406,337.41 L406.39,337.66 L406.78,337.88 L407.17,338.08 L407.56,338.23 L407.94,338.35 L408.33,338.42 L408.72,338.45 L409.11,338.46 L409.5,338.46 L409.89,338.49 L410.28,338.55 L410.67,338.69 L411.06,338.91 L411.44,339.22 L411.83,339.65 L412.22,340.17 L412.61,340.79 L413,341.47 L413.39,342.19 L413.78,342.93 L414.17,343.65 L414.56,344.34 L414.94,344.97 L415.33,345.53 L415.72,346.01 L416.11,346.41 L416.5,346.74 L416.89,347 L417.28,347.2 L417.67,347.35 L418.06,347.46 L418.44,347.54 L418.83,347.6 L419.22,347.63 L419.61,347.66 L420,347.67 Z" fill="#9ecf84" stroke="#6db348" stroke-width="0.9"/>
<path d="M392,360.04 L392.3,359.98 L392.6,359.91 L392.9,359.82 L393.2,359.72 L393.5,359.6 L393.8,359.46 L394.1,359.3 L394.4,359.12 L394.7,358.91 L395,358.69 L395.3,358.44 L395.6,358.16 L395.9,357.87 L396.2,357.55 L396.5,357.22 L396.8,356.86 L397.1,356.5 L397.4,356.12 L397.7,355.73 L398,355.34 L398.3,354.95 L398.6,354.56 L398.9,354.17 L399.2,353.79 L399.5,353.42 L399.8,353.05 L400.1,352.69 L400.4,352.34 L400.7,351.98 L401,351.61 L401.3,351.23 L401.6,350.83 L401.9,350.4 L402.2,349.94 L402.5,349.44 L402.8,348.88 L403.1,348.28 L403.4,347.64 L403.7,346.94 L404,346.2 L404.3,345.44 L404.6,344.65 L404.9,343.86 L405.2,343.1 L405.5,342.37 L405.8,341.7 L406.1,341.11 L406.4,340.63 L406.7,340.28 L407,340.07 L407.3,340.01 L407.6,340.12 L407.9,340.4 L408.2,340.86 L408.5,341.49 L408.8,342.27 L409.1,343.2 L409.4,344.24 L409.7,345.36 L410,346.55 L410.3,347.78 L410.6,349.01 L410.9,350.23 L411.2,351.41 L411.5,352.53 L411.8,353.58 L412.1,354.55 L412.4,355.44 L412.7,356.23 L413,356.92 L413.3,357.53 L413.6,358.05 L413.9,358.5 L414.2,358.87 L414.5,359.18 L414.8,359.43 L415.1,359.63 L415.4,359.79 L415.7,359.91 L416,360.01 L416.3,360.09 L416.6,360.15 L416.9,360.19 L417.2,360.22 L417.5,360.24 L417.8,360.26 L418.1,360.27 L418.4,360.28 L418.7,360.29 L419,360.29 Z" fill="#7a8cb5" stroke="#34497e" stroke-width="0.9"/>
<line x1="402.7" y1="280.3" x2="402.7" y2="360.3" stroke="#777" stroke-width="0.6" stroke-opacity="0.55"/>
<text transform="translate(449,303.9) scale(0.78,1)" font-size="7.6" text-anchor="end" fill="#6b6f86" stroke="#6b6f86" stroke-width="0.07" font-weight="normal" word-spacing="1.3" style="stroke-width:0.2">2.1 ± 0.8</text>
<text transform="translate(449,317.1) scale(0.78,1)" font-size="7.6" text-anchor="end" fill="#c0305a" stroke="#c0305a" stroke-width="0.07" font-weight="normal" word-spacing="1.3" style="stroke-width:0.2">18.5 ± 18.2</text>
<text transform="translate(449,330.3) scale(0.78,1)" font-size="7.6" text-anchor="end" fill="#e89b32" stroke="#e89b32" stroke-width="0.07" font-weight="normal" word-spacing="1.3" style="stroke-width:0.2">24.0 ± 20.4</text>
<text transform="translate(449,343.9) scale(0.78,1)" font-size="7.6" text-anchor="end" fill="#6fb74a" stroke="#6fb74a" stroke-width="0.07" font-weight="normal" word-spacing="1.3" style="stroke-width:0.2">38.4 ± 20.6</text>
<text transform="translate(449,356.9) scale(0.78,1)" font-size="7.6" text-anchor="end" fill="#3d5a96" stroke="#3d5a96" stroke-width="0.07" font-weight="normal" word-spacing="1.3" style="stroke-width:0.2">54.5 ± 23.3</text>
<rect x="373" y="280.3" width="79" height="80" fill="none" stroke="#231f20" stroke-width="1.5"/>
<line x1="284.2" y1="266.2" x2="335.5" y2="266.2" stroke="#231f20" stroke-width="1.05" />
<path d="M339.5,266.2 L334.1,263.8 L335.3,266.2 L334.1,268.6 Z" fill="#231f20"/>
<text x="342.9" y="269" font-size="8.6" text-anchor="start" fill="#231f20" stroke="#231f20" stroke-width="0.07" font-weight="normal" textLength="20.6" lengthAdjust="spacingAndGlyphs" >TNFR1</text>
<line x1="373" y1="266.2" x2="424.4" y2="266.2" stroke="#231f20" stroke-width="1.05" />
<path d="M428.4,266.2 L423,263.8 L424.2,266.2 L423,268.6 Z" fill="#231f20"/>
<text x="431.7" y="269" font-size="8.6" text-anchor="start" fill="#231f20" stroke="#231f20" stroke-width="0.07" font-weight="normal" textLength="20.6" lengthAdjust="spacingAndGlyphs" >TNFR2</text>
<line x1="373.5" y1="369.4" x2="429.3" y2="369.4" stroke="#231f20" stroke-width="1.05" />
<path d="M433.3,369.4 L427.9,367 L429.1,369.4 L427.9,371.8 Z" fill="#231f20"/>
<text x="436.6" y="372.4" font-size="8.6" text-anchor="start" fill="#231f20" stroke="#231f20" stroke-width="0.07" font-weight="normal" textLength="16.8" lengthAdjust="spacingAndGlyphs" >IL-6R</text>
<text x="346.9" y="372.4" font-size="8.6" text-anchor="start" fill="#231f20" stroke="#231f20" stroke-width="0.07" font-weight="normal" textLength="17.3" lengthAdjust="spacingAndGlyphs" >IL-1R</text>
<line x1="275.8" y1="183.5" x2="275.8" y2="326.7" stroke="#231f20" stroke-width="1.0" />
<path d="M275.8,178.6 L273.5,184.2 L278.1,184.2 Z" fill="#231f20"/>
<text transform="translate(277.68,344.75) rotate(-90)" font-size="8.2" text-anchor="middle" fill="#231f20" stroke="#231f20" stroke-width="0.07" textLength="30.3" lengthAdjust="spacingAndGlyphs">% of max</text>
<line x1="455.8" y1="188.1" x2="461" y2="188.1" stroke="#a0a8b8" stroke-width="1.4" />
<text x="464.1" y="190.7" font-size="7.6" text-anchor="start" fill="#231f20" stroke="#231f20" stroke-width="0.07" font-weight="normal" textLength="24.15" lengthAdjust="spacingAndGlyphs" >isotype</text>
<line x1="455.8" y1="196.25" x2="461" y2="196.25" stroke="#c8405e" stroke-width="1.4" />
<text x="464.1" y="198.85" font-size="7.6" text-anchor="start" fill="#231f20" stroke="#231f20" stroke-width="0.07" font-weight="normal" textLength="14.8" lengthAdjust="spacingAndGlyphs" >HSC</text>
<line x1="455.8" y1="205" x2="461" y2="205" stroke="#f0a848" stroke-width="1.4" />
<text x="464.1" y="207.6" font-size="7.6" text-anchor="start" fill="#231f20" stroke="#231f20" stroke-width="0.07" font-weight="normal" textLength="24.15" lengthAdjust="spacingAndGlyphs" >ST-HSC</text>
<line x1="455.8" y1="213.1" x2="461" y2="213.1" stroke="#8cc870" stroke-width="1.4" />
<text x="464.1" y="215.7" font-size="7.6" text-anchor="start" fill="#231f20" stroke="#231f20" stroke-width="0.07" font-weight="normal" textLength="21.9" lengthAdjust="spacingAndGlyphs" >HPC-2</text>
<line x1="455.8" y1="222.25" x2="461" y2="222.25" stroke="#4a6aa8" stroke-width="1.4" />
<text x="464.1" y="224.85" font-size="7.6" text-anchor="start" fill="#231f20" stroke="#231f20" stroke-width="0.07" font-weight="normal" textLength="15.15" lengthAdjust="spacingAndGlyphs" >MPP</text>
<rect x="0" y="0" width="520" height="1.25" fill="#000"/>
<rect x="0" y="0" width="1.25" height="384" fill="#000"/>
<rect x="518.75" y="0" width="1.25" height="384" fill="#000"/>
<rect x="0" y="382.6" width="520" height="1.4" fill="#000"/>
</svg>
</body></html>
